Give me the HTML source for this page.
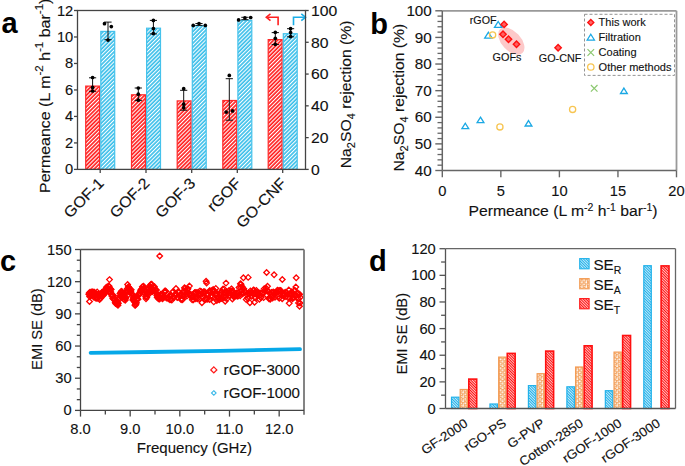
<!DOCTYPE html>
<html><head><meta charset="utf-8"><style>
html,body{margin:0;padding:0;background:#fff;width:685px;height:466px;overflow:hidden}
svg{display:block}
text{font-family:"Liberation Sans", sans-serif}
</style></head><body>
<svg width="685" height="466" viewBox="0 0 685 466">
<rect width="685" height="466" fill="#fff"/>

<defs>
 <pattern id="hr" patternUnits="userSpaceOnUse" width="2.75" height="2.75" patternTransform="rotate(45)">
  <rect width="2.75" height="2.75" fill="#ff2222"/><rect x="0" width="1.05" height="2.75" fill="#fff"/>
 </pattern>
 <pattern id="hb" patternUnits="userSpaceOnUse" width="2.75" height="2.75" patternTransform="rotate(45)">
  <rect width="2.75" height="2.75" fill="#3fc0ea"/><rect x="0" width="1.05" height="2.75" fill="#fff"/>
 </pattern>
 <pattern id="dr" patternUnits="userSpaceOnUse" width="1.9" height="1.9" patternTransform="rotate(-45)">
  <rect width="1.9" height="1.9" fill="#ff1010"/><rect x="0" width="0.7" height="1.9" fill="#fff"/>
 </pattern>
 <pattern id="db" patternUnits="userSpaceOnUse" width="1.9" height="1.9" patternTransform="rotate(-45)">
  <rect width="1.9" height="1.9" fill="#1fb0ea"/><rect x="0" width="0.7" height="1.9" fill="#fff"/>
 </pattern>
 <pattern id="do" patternUnits="userSpaceOnUse" width="4.4" height="4.4">
  <rect width="4.4" height="4.4" fill="#f29a50"/><circle cx="1.1" cy="1.0" r="0.95" fill="#fff"/><circle cx="3.3" cy="2.9" r="1.0" fill="#fff"/><circle cx="1.2" cy="3.6" r="0.7" fill="#fff"/><circle cx="3.6" cy="0.5" r="0.6" fill="#fff"/>
 </pattern>
</defs>

<text transform="translate(1.40,33.00)" font-size="29" text-anchor="start" fill="#000" font-weight="bold">a</text><rect x="85.70" y="86.10" width="13.90" height="83.30" fill="url(#hr)" stroke="#ff2a2a" stroke-width="1.2"/><rect x="100.80" y="31.40" width="13.90" height="138.00" fill="url(#hb)" stroke="#45c2ec" stroke-width="1.2"/><rect x="131.50" y="94.80" width="13.90" height="74.60" fill="url(#hr)" stroke="#ff2a2a" stroke-width="1.2"/><rect x="146.60" y="28.20" width="13.90" height="141.20" fill="url(#hb)" stroke="#45c2ec" stroke-width="1.2"/><rect x="177.20" y="100.90" width="13.90" height="68.50" fill="url(#hr)" stroke="#ff2a2a" stroke-width="1.2"/><rect x="192.30" y="25.70" width="13.90" height="143.70" fill="url(#hb)" stroke="#45c2ec" stroke-width="1.2"/><rect x="222.80" y="100.50" width="13.90" height="68.90" fill="url(#hr)" stroke="#ff2a2a" stroke-width="1.2"/><rect x="237.90" y="20.30" width="13.90" height="149.10" fill="url(#hb)" stroke="#45c2ec" stroke-width="1.2"/><rect x="268.20" y="39.60" width="13.90" height="129.80" fill="url(#hr)" stroke="#ff2a2a" stroke-width="1.2"/><rect x="283.30" y="33.70" width="13.90" height="135.70" fill="url(#hb)" stroke="#45c2ec" stroke-width="1.2"/><line x1="92.60" y1="77.80" x2="92.60" y2="91.30" stroke="#111" stroke-width="1.0"/><line x1="89.00" y1="77.80" x2="96.20" y2="77.80" stroke="#111" stroke-width="1.0"/><line x1="89.00" y1="91.30" x2="96.20" y2="91.30" stroke="#111" stroke-width="1.0"/><circle cx="92.60" cy="77.50" r="1.85" fill="#000"/><circle cx="92.60" cy="87.40" r="1.85" fill="#000"/><circle cx="92.60" cy="91.00" r="1.85" fill="#000"/><line x1="108.00" y1="22.10" x2="108.00" y2="39.70" stroke="#111" stroke-width="1.0"/><line x1="104.40" y1="22.10" x2="111.60" y2="22.10" stroke="#111" stroke-width="1.0"/><line x1="104.40" y1="39.70" x2="111.60" y2="39.70" stroke="#111" stroke-width="1.0"/><circle cx="104.50" cy="23.70" r="1.85" fill="#000"/><circle cx="111.30" cy="26.60" r="1.85" fill="#000"/><circle cx="108.00" cy="40.10" r="1.85" fill="#000"/><line x1="138.30" y1="88.00" x2="138.30" y2="100.40" stroke="#111" stroke-width="1.0"/><line x1="134.70" y1="88.00" x2="141.90" y2="88.00" stroke="#111" stroke-width="1.0"/><line x1="134.70" y1="100.40" x2="141.90" y2="100.40" stroke="#111" stroke-width="1.0"/><circle cx="138.30" cy="88.00" r="1.85" fill="#000"/><circle cx="138.30" cy="94.20" r="1.85" fill="#000"/><circle cx="138.30" cy="100.20" r="1.85" fill="#000"/><line x1="153.40" y1="20.40" x2="153.40" y2="33.90" stroke="#111" stroke-width="1.0"/><line x1="149.80" y1="20.40" x2="157.00" y2="20.40" stroke="#111" stroke-width="1.0"/><line x1="149.80" y1="33.90" x2="157.00" y2="33.90" stroke="#111" stroke-width="1.0"/><circle cx="153.40" cy="20.40" r="1.85" fill="#000"/><circle cx="153.40" cy="28.50" r="1.85" fill="#000"/><circle cx="153.40" cy="33.60" r="1.85" fill="#000"/><line x1="183.70" y1="90.30" x2="183.70" y2="110.20" stroke="#111" stroke-width="1.0"/><line x1="180.10" y1="90.30" x2="187.30" y2="90.30" stroke="#111" stroke-width="1.0"/><line x1="180.10" y1="110.20" x2="187.30" y2="110.20" stroke="#111" stroke-width="1.0"/><circle cx="183.70" cy="88.70" r="1.85" fill="#000"/><circle cx="183.70" cy="104.20" r="1.85" fill="#000"/><circle cx="183.70" cy="107.70" r="1.85" fill="#000"/><line x1="199.00" y1="23.50" x2="199.00" y2="25.40" stroke="#111" stroke-width="1.0"/><line x1="195.40" y1="23.50" x2="202.60" y2="23.50" stroke="#111" stroke-width="1.0"/><line x1="195.40" y1="25.40" x2="202.60" y2="25.40" stroke="#111" stroke-width="1.0"/><circle cx="193.20" cy="25.40" r="1.85" fill="#000"/><circle cx="199.00" cy="23.50" r="1.85" fill="#000"/><circle cx="205.30" cy="25.40" r="1.85" fill="#000"/><line x1="229.30" y1="78.70" x2="229.30" y2="120.20" stroke="#111" stroke-width="1.0"/><line x1="225.70" y1="78.70" x2="232.90" y2="78.70" stroke="#111" stroke-width="1.0"/><line x1="225.70" y1="120.20" x2="232.90" y2="120.20" stroke="#111" stroke-width="1.0"/><circle cx="229.30" cy="75.40" r="1.85" fill="#000"/><circle cx="226.20" cy="112.10" r="1.85" fill="#000"/><circle cx="232.60" cy="110.90" r="1.85" fill="#000"/><line x1="244.90" y1="17.30" x2="244.90" y2="19.70" stroke="#111" stroke-width="1.0"/><line x1="241.30" y1="17.30" x2="248.50" y2="17.30" stroke="#111" stroke-width="1.0"/><line x1="241.30" y1="19.70" x2="248.50" y2="19.70" stroke="#111" stroke-width="1.0"/><circle cx="238.60" cy="19.90" r="1.85" fill="#000"/><circle cx="244.90" cy="17.90" r="1.85" fill="#000"/><circle cx="250.70" cy="17.50" r="1.85" fill="#000"/><line x1="275.30" y1="32.60" x2="275.30" y2="44.50" stroke="#111" stroke-width="1.0"/><line x1="271.70" y1="32.60" x2="278.90" y2="32.60" stroke="#111" stroke-width="1.0"/><line x1="271.70" y1="44.50" x2="278.90" y2="44.50" stroke="#111" stroke-width="1.0"/><circle cx="275.30" cy="32.30" r="1.85" fill="#000"/><circle cx="275.30" cy="38.30" r="1.85" fill="#000"/><circle cx="275.30" cy="44.30" r="1.85" fill="#000"/><line x1="290.60" y1="28.70" x2="290.60" y2="36.80" stroke="#111" stroke-width="1.0"/><line x1="287.00" y1="28.70" x2="294.20" y2="28.70" stroke="#111" stroke-width="1.0"/><line x1="287.00" y1="36.80" x2="294.20" y2="36.80" stroke="#111" stroke-width="1.0"/><circle cx="290.60" cy="28.70" r="1.85" fill="#000"/><circle cx="290.60" cy="32.60" r="1.85" fill="#000"/><circle cx="290.60" cy="36.60" r="1.85" fill="#000"/><path d="M278.1,25.3 V17.2 H267.5" fill="none" stroke="#ff2020" stroke-width="1.6"/><path d="M270.5,13.8 L266.3,17.2 L270.5,20.6" fill="none" stroke="#ff2020" stroke-width="1.6"/><path d="M293.5,25.3 V17.2 H304.3" fill="none" stroke="#1aaee8" stroke-width="1.6"/><path d="M301.3,13.8 L305.5,17.2 L301.3,20.6" fill="none" stroke="#1aaee8" stroke-width="1.6"/><rect x="77.5" y="10.5" width="228.0" height="158.9" fill="none" stroke="#444" stroke-width="1.3"/><line x1="74.00" y1="169.40" x2="77.50" y2="169.40" stroke="#444" stroke-width="1.3"/><text transform="translate(73.30,174.40) scale(1.05,1)" font-size="14" text-anchor="end" fill="#111" stroke="#111" stroke-width="0.12">0</text><line x1="74.00" y1="142.92" x2="77.50" y2="142.92" stroke="#444" stroke-width="1.3"/><text transform="translate(73.30,147.92) scale(1.05,1)" font-size="14" text-anchor="end" fill="#111" stroke="#111" stroke-width="0.12">2</text><line x1="74.00" y1="116.43" x2="77.50" y2="116.43" stroke="#444" stroke-width="1.3"/><text transform="translate(73.30,121.43) scale(1.05,1)" font-size="14" text-anchor="end" fill="#111" stroke="#111" stroke-width="0.12">4</text><line x1="74.00" y1="89.95" x2="77.50" y2="89.95" stroke="#444" stroke-width="1.3"/><text transform="translate(73.30,94.95) scale(1.05,1)" font-size="14" text-anchor="end" fill="#111" stroke="#111" stroke-width="0.12">6</text><line x1="74.00" y1="63.47" x2="77.50" y2="63.47" stroke="#444" stroke-width="1.3"/><text transform="translate(73.30,68.47) scale(1.05,1)" font-size="14" text-anchor="end" fill="#111" stroke="#111" stroke-width="0.12">8</text><line x1="74.00" y1="36.98" x2="77.50" y2="36.98" stroke="#444" stroke-width="1.3"/><text transform="translate(73.30,41.98) scale(1.05,1)" font-size="14" text-anchor="end" fill="#111" stroke="#111" stroke-width="0.12">10</text><line x1="74.00" y1="10.50" x2="77.50" y2="10.50" stroke="#444" stroke-width="1.3"/><text transform="translate(73.30,15.50) scale(1.05,1)" font-size="14" text-anchor="end" fill="#111" stroke="#111" stroke-width="0.12">12</text><line x1="305.50" y1="169.40" x2="308.70" y2="169.40" stroke="#444" stroke-width="1.3"/><text transform="translate(311.00,174.80) scale(1.05,1)" font-size="15" text-anchor="start" fill="#111" stroke="#111" stroke-width="0.12">0</text><line x1="305.50" y1="137.62" x2="308.70" y2="137.62" stroke="#444" stroke-width="1.3"/><text transform="translate(311.00,143.02) scale(1.05,1)" font-size="15" text-anchor="start" fill="#111" stroke="#111" stroke-width="0.12">20</text><line x1="305.50" y1="105.84" x2="308.70" y2="105.84" stroke="#444" stroke-width="1.3"/><text transform="translate(311.00,111.24) scale(1.05,1)" font-size="15" text-anchor="start" fill="#111" stroke="#111" stroke-width="0.12">40</text><line x1="305.50" y1="74.06" x2="308.70" y2="74.06" stroke="#444" stroke-width="1.3"/><text transform="translate(311.00,79.46) scale(1.05,1)" font-size="15" text-anchor="start" fill="#111" stroke="#111" stroke-width="0.12">60</text><line x1="305.50" y1="42.28" x2="308.70" y2="42.28" stroke="#444" stroke-width="1.3"/><text transform="translate(311.00,47.68) scale(1.05,1)" font-size="15" text-anchor="start" fill="#111" stroke="#111" stroke-width="0.12">80</text><line x1="305.50" y1="10.50" x2="308.70" y2="10.50" stroke="#444" stroke-width="1.3"/><text transform="translate(311.00,15.90) scale(1.05,1)" font-size="15" text-anchor="start" fill="#111" stroke="#111" stroke-width="0.12">100</text><line x1="100.20" y1="169.40" x2="100.20" y2="172.90" stroke="#444" stroke-width="1.3"/><text transform="translate(104.80,184.20) rotate(-45) scale(1.05,1)" font-size="15.3" text-anchor="end" fill="#111" stroke="#111" stroke-width="0.12">GOF-1</text><line x1="146.00" y1="169.40" x2="146.00" y2="172.90" stroke="#444" stroke-width="1.3"/><text transform="translate(150.60,184.20) rotate(-45) scale(1.05,1)" font-size="15.3" text-anchor="end" fill="#111" stroke="#111" stroke-width="0.12">GOF-2</text><line x1="191.70" y1="169.40" x2="191.70" y2="172.90" stroke="#444" stroke-width="1.3"/><text transform="translate(196.30,184.20) rotate(-45) scale(1.05,1)" font-size="15.3" text-anchor="end" fill="#111" stroke="#111" stroke-width="0.12">GOF-3</text><line x1="237.30" y1="169.40" x2="237.30" y2="172.90" stroke="#444" stroke-width="1.3"/><text transform="translate(241.90,184.20) rotate(-45) scale(1.05,1)" font-size="15.3" text-anchor="end" fill="#111" stroke="#111" stroke-width="0.12">rGOF</text><line x1="282.70" y1="169.40" x2="282.70" y2="172.90" stroke="#444" stroke-width="1.3"/><text transform="translate(287.30,184.20) rotate(-45) scale(1.05,1)" font-size="15.3" text-anchor="end" fill="#111" stroke="#111" stroke-width="0.12">GO-CNF</text><text transform="translate(49.60,192.90) rotate(-90) scale(1.05,1)" font-size="15.2" text-anchor="start" fill="#111" stroke="#111" stroke-width="0.12">Permeance (L m<tspan dy="-6.8" font-size="11">-2</tspan><tspan dy="6.8"> h<tspan dy="-6.8" font-size="11">-1</tspan><tspan dy="6.8"> bar<tspan dy="-6.8" font-size="11">-1</tspan><tspan dy="6.8">)</tspan></tspan></tspan></text><text transform="translate(351.30,168.30) rotate(-90) scale(1.05,1)" font-size="15" text-anchor="start" fill="#111" stroke="#111" stroke-width="0.12">Na<tspan dy="4" font-size="10.5">2</tspan><tspan dy="-4">SO<tspan dy="4" font-size="10.5">4</tspan><tspan dy="-4"> rejection (%)</tspan></tspan></text><text transform="translate(370.30,33.60)" font-size="29" text-anchor="start" fill="#000" font-weight="bold">b</text><ellipse cx="511.3" cy="41.0" rx="16.3" ry="9.6" transform="rotate(47 511.3 41.0)" fill="#fdc9c9"/><line x1="442.30" y1="10.80" x2="676.50" y2="10.80" stroke="#999" stroke-width="1.8"/><line x1="676.50" y1="10.80" x2="676.50" y2="170.50" stroke="#999" stroke-width="1.8"/><line x1="442.30" y1="10.80" x2="442.30" y2="170.50" stroke="#666" stroke-width="1.5"/><line x1="442.30" y1="170.50" x2="676.50" y2="170.50" stroke="#666" stroke-width="1.5"/><line x1="435.30" y1="170.50" x2="442.30" y2="170.50" stroke="#666" stroke-width="1.4"/><text transform="translate(431.80,175.60) scale(1.05,1)" font-size="14.5" text-anchor="end" fill="#111" stroke="#111" stroke-width="0.12">40</text><line x1="437.50" y1="165.18" x2="442.30" y2="165.18" stroke="#666" stroke-width="1.3"/><line x1="437.50" y1="159.85" x2="442.30" y2="159.85" stroke="#666" stroke-width="1.3"/><line x1="437.50" y1="154.53" x2="442.30" y2="154.53" stroke="#666" stroke-width="1.3"/><line x1="437.50" y1="149.21" x2="442.30" y2="149.21" stroke="#666" stroke-width="1.3"/><line x1="435.30" y1="143.88" x2="442.30" y2="143.88" stroke="#666" stroke-width="1.4"/><text transform="translate(431.80,148.98) scale(1.05,1)" font-size="14.5" text-anchor="end" fill="#111" stroke="#111" stroke-width="0.12">50</text><line x1="437.50" y1="138.56" x2="442.30" y2="138.56" stroke="#666" stroke-width="1.3"/><line x1="437.50" y1="133.24" x2="442.30" y2="133.24" stroke="#666" stroke-width="1.3"/><line x1="437.50" y1="127.91" x2="442.30" y2="127.91" stroke="#666" stroke-width="1.3"/><line x1="437.50" y1="122.59" x2="442.30" y2="122.59" stroke="#666" stroke-width="1.3"/><line x1="435.30" y1="117.27" x2="442.30" y2="117.27" stroke="#666" stroke-width="1.4"/><text transform="translate(431.80,122.37) scale(1.05,1)" font-size="14.5" text-anchor="end" fill="#111" stroke="#111" stroke-width="0.12">60</text><line x1="437.50" y1="111.94" x2="442.30" y2="111.94" stroke="#666" stroke-width="1.3"/><line x1="437.50" y1="106.62" x2="442.30" y2="106.62" stroke="#666" stroke-width="1.3"/><line x1="437.50" y1="101.30" x2="442.30" y2="101.30" stroke="#666" stroke-width="1.3"/><line x1="437.50" y1="95.97" x2="442.30" y2="95.97" stroke="#666" stroke-width="1.3"/><line x1="435.30" y1="90.65" x2="442.30" y2="90.65" stroke="#666" stroke-width="1.4"/><text transform="translate(431.80,95.75) scale(1.05,1)" font-size="14.5" text-anchor="end" fill="#111" stroke="#111" stroke-width="0.12">70</text><line x1="437.50" y1="85.33" x2="442.30" y2="85.33" stroke="#666" stroke-width="1.3"/><line x1="437.50" y1="80.00" x2="442.30" y2="80.00" stroke="#666" stroke-width="1.3"/><line x1="437.50" y1="74.68" x2="442.30" y2="74.68" stroke="#666" stroke-width="1.3"/><line x1="437.50" y1="69.36" x2="442.30" y2="69.36" stroke="#666" stroke-width="1.3"/><line x1="435.30" y1="64.03" x2="442.30" y2="64.03" stroke="#666" stroke-width="1.4"/><text transform="translate(431.80,69.13) scale(1.05,1)" font-size="14.5" text-anchor="end" fill="#111" stroke="#111" stroke-width="0.12">80</text><line x1="437.50" y1="58.71" x2="442.30" y2="58.71" stroke="#666" stroke-width="1.3"/><line x1="437.50" y1="53.39" x2="442.30" y2="53.39" stroke="#666" stroke-width="1.3"/><line x1="437.50" y1="48.06" x2="442.30" y2="48.06" stroke="#666" stroke-width="1.3"/><line x1="437.50" y1="42.74" x2="442.30" y2="42.74" stroke="#666" stroke-width="1.3"/><line x1="435.30" y1="37.42" x2="442.30" y2="37.42" stroke="#666" stroke-width="1.4"/><text transform="translate(431.80,42.52) scale(1.05,1)" font-size="14.5" text-anchor="end" fill="#111" stroke="#111" stroke-width="0.12">90</text><line x1="437.50" y1="32.09" x2="442.30" y2="32.09" stroke="#666" stroke-width="1.3"/><line x1="437.50" y1="26.77" x2="442.30" y2="26.77" stroke="#666" stroke-width="1.3"/><line x1="437.50" y1="21.45" x2="442.30" y2="21.45" stroke="#666" stroke-width="1.3"/><line x1="437.50" y1="16.12" x2="442.30" y2="16.12" stroke="#666" stroke-width="1.3"/><line x1="435.30" y1="10.80" x2="442.30" y2="10.80" stroke="#666" stroke-width="1.4"/><text transform="translate(431.80,15.90) scale(1.05,1)" font-size="14.5" text-anchor="end" fill="#111" stroke="#111" stroke-width="0.12">100</text><line x1="442.30" y1="170.50" x2="442.30" y2="177.30" stroke="#666" stroke-width="1.4"/><text transform="translate(442.30,196.00) scale(1.05,1)" font-size="14" text-anchor="middle" fill="#111" stroke="#111" stroke-width="0.12">0</text><line x1="500.85" y1="170.50" x2="500.85" y2="177.30" stroke="#666" stroke-width="1.4"/><text transform="translate(500.85,196.00) scale(1.05,1)" font-size="14" text-anchor="middle" fill="#111" stroke="#111" stroke-width="0.12">5</text><line x1="559.40" y1="170.50" x2="559.40" y2="177.30" stroke="#666" stroke-width="1.4"/><text transform="translate(559.40,196.00) scale(1.05,1)" font-size="14" text-anchor="middle" fill="#111" stroke="#111" stroke-width="0.12">10</text><line x1="617.95" y1="170.50" x2="617.95" y2="177.30" stroke="#666" stroke-width="1.4"/><text transform="translate(617.95,196.00) scale(1.05,1)" font-size="14" text-anchor="middle" fill="#111" stroke="#111" stroke-width="0.12">15</text><line x1="676.50" y1="170.50" x2="676.50" y2="177.30" stroke="#666" stroke-width="1.4"/><text transform="translate(676.50,196.00) scale(1.05,1)" font-size="14" text-anchor="middle" fill="#111" stroke="#111" stroke-width="0.12">20</text><text transform="translate(563.00,215.60) scale(1.05,1)" font-size="15" text-anchor="middle" fill="#111" stroke="#111" stroke-width="0.12">Permeance (L m<tspan dy="-5" font-size="10">-2</tspan><tspan dy="5"> h<tspan dy="-5" font-size="10">-1</tspan><tspan dy="5"> bar<tspan dy="-5" font-size="10">-1</tspan><tspan dy="5">)</tspan></tspan></tspan></text><text transform="translate(404.20,171.50) rotate(-90) scale(1.05,1)" font-size="15" text-anchor="start" fill="#111" stroke="#111" stroke-width="0.12">Na<tspan dy="4" font-size="10.5">2</tspan><tspan dy="-4">SO<tspan dy="4" font-size="10.5">4</tspan><tspan dy="-4"> rejection (%)</tspan></tspan></text><path d="M465.30,123.24 L468.70,128.69 L461.90,128.69 Z" fill="none" stroke="#1aa8e4" stroke-width="1.3" stroke-linejoin="miter"/><path d="M480.50,117.14 L483.90,122.59 L477.10,122.59 Z" fill="none" stroke="#1aa8e4" stroke-width="1.3" stroke-linejoin="miter"/><path d="M528.50,120.54 L531.90,125.99 L525.10,125.99 Z" fill="none" stroke="#1aa8e4" stroke-width="1.3" stroke-linejoin="miter"/><path d="M623.90,88.04 L627.30,93.49 L620.50,93.49 Z" fill="none" stroke="#1aa8e4" stroke-width="1.3" stroke-linejoin="miter"/><path d="M498.20,21.47 L501.90,27.40 L494.50,27.40 Z" fill="none" stroke="#1aa8e4" stroke-width="1.3" stroke-linejoin="miter"/><path d="M488.40,32.27 L492.10,38.20 L484.70,38.20 Z" fill="none" stroke="#1aa8e4" stroke-width="1.3" stroke-linejoin="miter"/><circle cx="499.90" cy="126.90" r="3.1" fill="none" stroke="#f7c552" stroke-width="1.3"/><circle cx="572.60" cy="109.40" r="3.1" fill="none" stroke="#f7c552" stroke-width="1.3"/><circle cx="492.60" cy="34.90" r="3.1" fill="none" stroke="#f7c552" stroke-width="1.3"/><path d="M590.90,85.00 L597.50,91.60 M597.50,85.00 L590.90,91.60" stroke="#8cc870" stroke-width="1.2"/><path d="M504.10,21.20 L507.30,24.40 L504.10,27.60 L500.90,24.40 Z" fill="#ff6060" stroke="#ff1010" stroke-width="1.4"/><path d="M503.00,31.10 L506.20,34.30 L503.00,37.50 L499.80,34.30 Z" fill="#ff6060" stroke="#ff1010" stroke-width="1.4"/><path d="M508.50,36.00 L511.70,39.20 L508.50,42.40 L505.30,39.20 Z" fill="#ff6060" stroke="#ff1010" stroke-width="1.4"/><path d="M516.50,41.10 L519.70,44.30 L516.50,47.50 L513.30,44.30 Z" fill="#ff6060" stroke="#ff1010" stroke-width="1.4"/><path d="M558.10,44.50 L561.30,47.70 L558.10,50.90 L554.90,47.70 Z" fill="#ff6060" stroke="#ff1010" stroke-width="1.4"/><text transform="translate(469.80,24.00) scale(1.05,1)" font-size="10.2" text-anchor="start" fill="#111" stroke="#111" stroke-width="0.12">rGOF</text><text transform="translate(492.60,60.80) scale(1.05,1)" font-size="10.3" text-anchor="start" fill="#111" stroke="#111" stroke-width="0.12">GOFs</text><text transform="translate(538.80,61.60) scale(1.05,1)" font-size="10.3" text-anchor="start" fill="#111" stroke="#111" stroke-width="0.12">GO-CNF</text><rect x="584.5" y="14.3" width="90" height="61.1" fill="none" stroke="#888" stroke-width="0.9" stroke-dasharray="3,2"/><path d="M590.80,19.40 L593.80,22.40 L590.80,25.40 L587.80,22.40 Z" fill="#ff6a6a" stroke="#ff1010" stroke-width="1.4"/><path d="M590.80,34.26 L594.40,40.03 L587.20,40.03 Z" fill="none" stroke="#1aa8e4" stroke-width="1.3" stroke-linejoin="miter"/><path d="M587.50,49.20 L594.10,55.80 M594.10,49.20 L587.50,55.80" stroke="#8cc870" stroke-width="1.2"/><circle cx="590.80" cy="67.00" r="3.2" fill="none" stroke="#f7c552" stroke-width="1.3"/><text transform="translate(598.60,26.20) scale(1.05,1)" font-size="10.5" text-anchor="start" fill="#111" stroke="#111" stroke-width="0.12">This work</text><text transform="translate(598.60,41.10) scale(1.05,1)" font-size="10.5" text-anchor="start" fill="#111" stroke="#111" stroke-width="0.12">Filtration</text><text transform="translate(598.60,56.00) scale(1.05,1)" font-size="10.5" text-anchor="start" fill="#111" stroke="#111" stroke-width="0.12">Coating</text><text transform="translate(598.60,70.90) scale(1.05,1)" font-size="10.5" text-anchor="start" fill="#111" stroke="#111" stroke-width="0.12">Other methods</text><text transform="translate(0.00,271.00)" font-size="29" text-anchor="start" fill="#000" font-weight="bold">c</text><path d="M90.6,352.8 L150,352.0 L220,350.9 L300,349.1" fill="none" stroke="#06a8e8" stroke-width="3.8" stroke-linecap="round"/><path d="M88.80,291.43 L91.60,294.23 L88.80,297.03 L86.00,294.23 Z" fill="none" stroke="#ff0000" stroke-width="1.3"/><path d="M89.20,290.15 L92.00,292.95 L89.20,295.75 L86.40,292.95 Z" fill="none" stroke="#ff0000" stroke-width="1.3"/><path d="M89.60,293.72 L92.40,296.52 L89.60,299.32 L86.80,296.52 Z" fill="none" stroke="#ff0000" stroke-width="1.3"/><path d="M90.00,289.52 L92.80,292.32 L90.00,295.12 L87.20,292.32 Z" fill="none" stroke="#ff0000" stroke-width="1.3"/><path d="M90.40,292.82 L93.20,295.62 L90.40,298.42 L87.60,295.62 Z" fill="none" stroke="#ff0000" stroke-width="1.3"/><path d="M90.80,291.56 L93.60,294.36 L90.80,297.16 L88.00,294.36 Z" fill="none" stroke="#ff0000" stroke-width="1.3"/><path d="M91.20,289.30 L94.00,292.10 L91.20,294.90 L88.40,292.10 Z" fill="none" stroke="#ff0000" stroke-width="1.3"/><path d="M91.60,292.51 L94.40,295.31 L91.60,298.11 L88.80,295.31 Z" fill="none" stroke="#ff0000" stroke-width="1.3"/><path d="M92.00,289.09 L94.80,291.89 L92.00,294.69 L89.20,291.89 Z" fill="none" stroke="#ff0000" stroke-width="1.3"/><path d="M92.40,291.90 L95.20,294.70 L92.40,297.50 L89.60,294.70 Z" fill="none" stroke="#ff0000" stroke-width="1.3"/><path d="M92.80,289.25 L95.60,292.05 L92.80,294.85 L90.00,292.05 Z" fill="none" stroke="#ff0000" stroke-width="1.3"/><path d="M93.20,289.36 L96.00,292.16 L93.20,294.96 L90.40,292.16 Z" fill="none" stroke="#ff0000" stroke-width="1.3"/><path d="M93.60,291.73 L96.40,294.53 L93.60,297.33 L90.80,294.53 Z" fill="none" stroke="#ff0000" stroke-width="1.3"/><path d="M94.00,294.59 L96.80,297.39 L94.00,300.19 L91.20,297.39 Z" fill="none" stroke="#ff0000" stroke-width="1.3"/><path d="M94.40,289.50 L97.20,292.30 L94.40,295.10 L91.60,292.30 Z" fill="none" stroke="#ff0000" stroke-width="1.3"/><path d="M94.80,290.18 L97.60,292.98 L94.80,295.78 L92.00,292.98 Z" fill="none" stroke="#ff0000" stroke-width="1.3"/><path d="M95.20,293.05 L98.00,295.85 L95.20,298.65 L92.40,295.85 Z" fill="none" stroke="#ff0000" stroke-width="1.3"/><path d="M95.60,295.32 L98.40,298.12 L95.60,300.92 L92.80,298.12 Z" fill="none" stroke="#ff0000" stroke-width="1.3"/><path d="M96.00,292.62 L98.80,295.42 L96.00,298.22 L93.20,295.42 Z" fill="none" stroke="#ff0000" stroke-width="1.3"/><path d="M96.40,291.28 L99.20,294.08 L96.40,296.88 L93.60,294.08 Z" fill="none" stroke="#ff0000" stroke-width="1.3"/><path d="M96.80,295.51 L99.60,298.31 L96.80,301.11 L94.00,298.31 Z" fill="none" stroke="#ff0000" stroke-width="1.3"/><path d="M97.20,289.15 L100.00,291.95 L97.20,294.75 L94.40,291.95 Z" fill="none" stroke="#ff0000" stroke-width="1.3"/><path d="M97.60,295.33 L100.40,298.13 L97.60,300.93 L94.80,298.13 Z" fill="none" stroke="#ff0000" stroke-width="1.3"/><path d="M98.00,291.56 L100.80,294.36 L98.00,297.16 L95.20,294.36 Z" fill="none" stroke="#ff0000" stroke-width="1.3"/><path d="M98.40,290.85 L101.20,293.65 L98.40,296.45 L95.60,293.65 Z" fill="none" stroke="#ff0000" stroke-width="1.3"/><path d="M98.80,290.99 L101.60,293.79 L98.80,296.59 L96.00,293.79 Z" fill="none" stroke="#ff0000" stroke-width="1.3"/><path d="M99.20,292.69 L102.00,295.49 L99.20,298.29 L96.40,295.49 Z" fill="none" stroke="#ff0000" stroke-width="1.3"/><path d="M99.60,296.68 L102.40,299.48 L99.60,302.28 L96.80,299.48 Z" fill="none" stroke="#ff0000" stroke-width="1.3"/><path d="M100.00,292.44 L102.80,295.24 L100.00,298.04 L97.20,295.24 Z" fill="none" stroke="#ff0000" stroke-width="1.3"/><path d="M100.40,295.26 L103.20,298.06 L100.40,300.86 L97.60,298.06 Z" fill="none" stroke="#ff0000" stroke-width="1.3"/><path d="M100.80,295.21 L103.60,298.01 L100.80,300.81 L98.00,298.01 Z" fill="none" stroke="#ff0000" stroke-width="1.3"/><path d="M101.20,292.83 L104.00,295.63 L101.20,298.43 L98.40,295.63 Z" fill="none" stroke="#ff0000" stroke-width="1.3"/><path d="M101.60,293.64 L104.40,296.44 L101.60,299.24 L98.80,296.44 Z" fill="none" stroke="#ff0000" stroke-width="1.3"/><path d="M102.00,289.69 L104.80,292.49 L102.00,295.29 L99.20,292.49 Z" fill="none" stroke="#ff0000" stroke-width="1.3"/><path d="M102.40,289.21 L105.20,292.01 L102.40,294.81 L99.60,292.01 Z" fill="none" stroke="#ff0000" stroke-width="1.3"/><path d="M102.80,289.80 L105.60,292.60 L102.80,295.40 L100.00,292.60 Z" fill="none" stroke="#ff0000" stroke-width="1.3"/><path d="M103.20,292.76 L106.00,295.56 L103.20,298.36 L100.40,295.56 Z" fill="none" stroke="#ff0000" stroke-width="1.3"/><path d="M103.60,290.48 L106.40,293.28 L103.60,296.08 L100.80,293.28 Z" fill="none" stroke="#ff0000" stroke-width="1.3"/><path d="M104.00,289.21 L106.80,292.01 L104.00,294.81 L101.20,292.01 Z" fill="none" stroke="#ff0000" stroke-width="1.3"/><path d="M104.40,290.63 L107.20,293.43 L104.40,296.23 L101.60,293.43 Z" fill="none" stroke="#ff0000" stroke-width="1.3"/><path d="M104.80,288.92 L107.60,291.72 L104.80,294.52 L102.00,291.72 Z" fill="none" stroke="#ff0000" stroke-width="1.3"/><path d="M105.20,287.06 L108.00,289.86 L105.20,292.66 L102.40,289.86 Z" fill="none" stroke="#ff0000" stroke-width="1.3"/><path d="M105.60,289.87 L108.40,292.67 L105.60,295.47 L102.80,292.67 Z" fill="none" stroke="#ff0000" stroke-width="1.3"/><path d="M106.00,288.43 L108.80,291.23 L106.00,294.03 L103.20,291.23 Z" fill="none" stroke="#ff0000" stroke-width="1.3"/><path d="M106.40,284.40 L109.20,287.20 L106.40,290.00 L103.60,287.20 Z" fill="none" stroke="#ff0000" stroke-width="1.3"/><path d="M106.80,286.02 L109.60,288.82 L106.80,291.62 L104.00,288.82 Z" fill="none" stroke="#ff0000" stroke-width="1.3"/><path d="M107.20,284.91 L110.00,287.71 L107.20,290.51 L104.40,287.71 Z" fill="none" stroke="#ff0000" stroke-width="1.3"/><path d="M107.60,286.68 L110.40,289.48 L107.60,292.28 L104.80,289.48 Z" fill="none" stroke="#ff0000" stroke-width="1.3"/><path d="M108.00,285.63 L110.80,288.43 L108.00,291.23 L105.20,288.43 Z" fill="none" stroke="#ff0000" stroke-width="1.3"/><path d="M108.40,283.20 L111.20,286.00 L108.40,288.80 L105.60,286.00 Z" fill="none" stroke="#ff0000" stroke-width="1.3"/><path d="M108.80,288.94 L111.60,291.74 L108.80,294.54 L106.00,291.74 Z" fill="none" stroke="#ff0000" stroke-width="1.3"/><path d="M109.20,283.49 L112.00,286.29 L109.20,289.09 L106.40,286.29 Z" fill="none" stroke="#ff0000" stroke-width="1.3"/><path d="M109.60,286.40 L112.40,289.20 L109.60,292.00 L106.80,289.20 Z" fill="none" stroke="#ff0000" stroke-width="1.3"/><path d="M110.00,289.60 L112.80,292.40 L110.00,295.20 L107.20,292.40 Z" fill="none" stroke="#ff0000" stroke-width="1.3"/><path d="M110.40,286.00 L113.20,288.80 L110.40,291.60 L107.60,288.80 Z" fill="none" stroke="#ff0000" stroke-width="1.3"/><path d="M110.80,289.18 L113.60,291.98 L110.80,294.78 L108.00,291.98 Z" fill="none" stroke="#ff0000" stroke-width="1.3"/><path d="M111.20,286.69 L114.00,289.49 L111.20,292.29 L108.40,289.49 Z" fill="none" stroke="#ff0000" stroke-width="1.3"/><path d="M111.60,291.97 L114.40,294.77 L111.60,297.57 L108.80,294.77 Z" fill="none" stroke="#ff0000" stroke-width="1.3"/><path d="M112.00,293.40 L114.80,296.20 L112.00,299.00 L109.20,296.20 Z" fill="none" stroke="#ff0000" stroke-width="1.3"/><path d="M112.40,292.77 L115.20,295.57 L112.40,298.37 L109.60,295.57 Z" fill="none" stroke="#ff0000" stroke-width="1.3"/><path d="M112.80,295.69 L115.60,298.49 L112.80,301.29 L110.00,298.49 Z" fill="none" stroke="#ff0000" stroke-width="1.3"/><path d="M113.20,292.39 L116.00,295.19 L113.20,297.99 L110.40,295.19 Z" fill="none" stroke="#ff0000" stroke-width="1.3"/><path d="M113.60,295.88 L116.40,298.68 L113.60,301.48 L110.80,298.68 Z" fill="none" stroke="#ff0000" stroke-width="1.3"/><path d="M114.00,295.89 L116.80,298.69 L114.00,301.49 L111.20,298.69 Z" fill="none" stroke="#ff0000" stroke-width="1.3"/><path d="M114.40,296.53 L117.20,299.33 L114.40,302.13 L111.60,299.33 Z" fill="none" stroke="#ff0000" stroke-width="1.3"/><path d="M114.80,296.38 L117.60,299.18 L114.80,301.98 L112.00,299.18 Z" fill="none" stroke="#ff0000" stroke-width="1.3"/><path d="M115.20,299.56 L118.00,302.36 L115.20,305.16 L112.40,302.36 Z" fill="none" stroke="#ff0000" stroke-width="1.3"/><path d="M115.60,300.73 L118.40,303.53 L115.60,306.33 L112.80,303.53 Z" fill="none" stroke="#ff0000" stroke-width="1.3"/><path d="M116.00,297.75 L118.80,300.55 L116.00,303.35 L113.20,300.55 Z" fill="none" stroke="#ff0000" stroke-width="1.3"/><path d="M116.40,299.54 L119.20,302.34 L116.40,305.14 L113.60,302.34 Z" fill="none" stroke="#ff0000" stroke-width="1.3"/><path d="M116.80,295.61 L119.60,298.41 L116.80,301.21 L114.00,298.41 Z" fill="none" stroke="#ff0000" stroke-width="1.3"/><path d="M117.20,300.63 L120.00,303.43 L117.20,306.23 L114.40,303.43 Z" fill="none" stroke="#ff0000" stroke-width="1.3"/><path d="M117.60,300.66 L120.40,303.46 L117.60,306.26 L114.80,303.46 Z" fill="none" stroke="#ff0000" stroke-width="1.3"/><path d="M118.00,302.54 L120.80,305.34 L118.00,308.14 L115.20,305.34 Z" fill="none" stroke="#ff0000" stroke-width="1.3"/><path d="M118.40,300.36 L121.20,303.16 L118.40,305.96 L115.60,303.16 Z" fill="none" stroke="#ff0000" stroke-width="1.3"/><path d="M118.80,295.54 L121.60,298.34 L118.80,301.14 L116.00,298.34 Z" fill="none" stroke="#ff0000" stroke-width="1.3"/><path d="M119.20,295.32 L122.00,298.12 L119.20,300.92 L116.40,298.12 Z" fill="none" stroke="#ff0000" stroke-width="1.3"/><path d="M119.60,296.41 L122.40,299.21 L119.60,302.01 L116.80,299.21 Z" fill="none" stroke="#ff0000" stroke-width="1.3"/><path d="M120.00,290.81 L122.80,293.61 L120.00,296.41 L117.20,293.61 Z" fill="none" stroke="#ff0000" stroke-width="1.3"/><path d="M120.40,293.02 L123.20,295.82 L120.40,298.62 L117.60,295.82 Z" fill="none" stroke="#ff0000" stroke-width="1.3"/><path d="M120.80,289.96 L123.60,292.76 L120.80,295.56 L118.00,292.76 Z" fill="none" stroke="#ff0000" stroke-width="1.3"/><path d="M121.20,288.64 L124.00,291.44 L121.20,294.24 L118.40,291.44 Z" fill="none" stroke="#ff0000" stroke-width="1.3"/><path d="M121.60,288.57 L124.40,291.37 L121.60,294.17 L118.80,291.37 Z" fill="none" stroke="#ff0000" stroke-width="1.3"/><path d="M122.00,294.01 L124.80,296.81 L122.00,299.61 L119.20,296.81 Z" fill="none" stroke="#ff0000" stroke-width="1.3"/><path d="M122.40,289.76 L125.20,292.56 L122.40,295.36 L119.60,292.56 Z" fill="none" stroke="#ff0000" stroke-width="1.3"/><path d="M122.80,290.95 L125.60,293.75 L122.80,296.55 L120.00,293.75 Z" fill="none" stroke="#ff0000" stroke-width="1.3"/><path d="M123.20,292.32 L126.00,295.12 L123.20,297.92 L120.40,295.12 Z" fill="none" stroke="#ff0000" stroke-width="1.3"/><path d="M123.60,296.12 L126.40,298.92 L123.60,301.72 L120.80,298.92 Z" fill="none" stroke="#ff0000" stroke-width="1.3"/><path d="M124.00,290.77 L126.80,293.57 L124.00,296.37 L121.20,293.57 Z" fill="none" stroke="#ff0000" stroke-width="1.3"/><path d="M124.40,293.77 L127.20,296.57 L124.40,299.37 L121.60,296.57 Z" fill="none" stroke="#ff0000" stroke-width="1.3"/><path d="M124.80,294.83 L127.60,297.63 L124.80,300.43 L122.00,297.63 Z" fill="none" stroke="#ff0000" stroke-width="1.3"/><path d="M125.20,297.57 L128.00,300.37 L125.20,303.17 L122.40,300.37 Z" fill="none" stroke="#ff0000" stroke-width="1.3"/><path d="M125.60,295.93 L128.40,298.73 L125.60,301.53 L122.80,298.73 Z" fill="none" stroke="#ff0000" stroke-width="1.3"/><path d="M126.00,294.57 L128.80,297.37 L126.00,300.17 L123.20,297.37 Z" fill="none" stroke="#ff0000" stroke-width="1.3"/><path d="M126.40,288.67 L129.20,291.47 L126.40,294.27 L123.60,291.47 Z" fill="none" stroke="#ff0000" stroke-width="1.3"/><path d="M126.80,287.96 L129.60,290.76 L126.80,293.56 L124.00,290.76 Z" fill="none" stroke="#ff0000" stroke-width="1.3"/><path d="M127.20,285.87 L130.00,288.67 L127.20,291.47 L124.40,288.67 Z" fill="none" stroke="#ff0000" stroke-width="1.3"/><path d="M127.60,287.97 L130.40,290.77 L127.60,293.57 L124.80,290.77 Z" fill="none" stroke="#ff0000" stroke-width="1.3"/><path d="M128.00,289.10 L130.80,291.90 L128.00,294.70 L125.20,291.90 Z" fill="none" stroke="#ff0000" stroke-width="1.3"/><path d="M128.40,283.90 L131.20,286.70 L128.40,289.50 L125.60,286.70 Z" fill="none" stroke="#ff0000" stroke-width="1.3"/><path d="M128.80,284.68 L131.60,287.48 L128.80,290.28 L126.00,287.48 Z" fill="none" stroke="#ff0000" stroke-width="1.3"/><path d="M129.20,285.69 L132.00,288.49 L129.20,291.29 L126.40,288.49 Z" fill="none" stroke="#ff0000" stroke-width="1.3"/><path d="M129.60,286.30 L132.40,289.10 L129.60,291.90 L126.80,289.10 Z" fill="none" stroke="#ff0000" stroke-width="1.3"/><path d="M130.00,288.72 L132.80,291.52 L130.00,294.32 L127.20,291.52 Z" fill="none" stroke="#ff0000" stroke-width="1.3"/><path d="M130.40,290.08 L133.20,292.88 L130.40,295.68 L127.60,292.88 Z" fill="none" stroke="#ff0000" stroke-width="1.3"/><path d="M130.80,288.33 L133.60,291.13 L130.80,293.93 L128.00,291.13 Z" fill="none" stroke="#ff0000" stroke-width="1.3"/><path d="M131.20,287.07 L134.00,289.87 L131.20,292.67 L128.40,289.87 Z" fill="none" stroke="#ff0000" stroke-width="1.3"/><path d="M131.60,290.67 L134.40,293.47 L131.60,296.27 L128.80,293.47 Z" fill="none" stroke="#ff0000" stroke-width="1.3"/><path d="M132.00,291.17 L134.80,293.97 L132.00,296.77 L129.20,293.97 Z" fill="none" stroke="#ff0000" stroke-width="1.3"/><path d="M132.40,293.54 L135.20,296.34 L132.40,299.14 L129.60,296.34 Z" fill="none" stroke="#ff0000" stroke-width="1.3"/><path d="M132.80,297.27 L135.60,300.07 L132.80,302.87 L130.00,300.07 Z" fill="none" stroke="#ff0000" stroke-width="1.3"/><path d="M133.20,296.33 L136.00,299.13 L133.20,301.93 L130.40,299.13 Z" fill="none" stroke="#ff0000" stroke-width="1.3"/><path d="M133.60,296.02 L136.40,298.82 L133.60,301.62 L130.80,298.82 Z" fill="none" stroke="#ff0000" stroke-width="1.3"/><path d="M134.00,297.70 L136.80,300.50 L134.00,303.30 L131.20,300.50 Z" fill="none" stroke="#ff0000" stroke-width="1.3"/><path d="M134.40,299.07 L137.20,301.87 L134.40,304.67 L131.60,301.87 Z" fill="none" stroke="#ff0000" stroke-width="1.3"/><path d="M134.80,295.54 L137.60,298.34 L134.80,301.14 L132.00,298.34 Z" fill="none" stroke="#ff0000" stroke-width="1.3"/><path d="M135.20,302.58 L138.00,305.38 L135.20,308.18 L132.40,305.38 Z" fill="none" stroke="#ff0000" stroke-width="1.3"/><path d="M135.60,301.11 L138.40,303.91 L135.60,306.71 L132.80,303.91 Z" fill="none" stroke="#ff0000" stroke-width="1.3"/><path d="M136.00,301.19 L138.80,303.99 L136.00,306.79 L133.20,303.99 Z" fill="none" stroke="#ff0000" stroke-width="1.3"/><path d="M136.40,300.03 L139.20,302.83 L136.40,305.63 L133.60,302.83 Z" fill="none" stroke="#ff0000" stroke-width="1.3"/><path d="M136.80,296.51 L139.60,299.31 L136.80,302.11 L134.00,299.31 Z" fill="none" stroke="#ff0000" stroke-width="1.3"/><path d="M137.20,295.95 L140.00,298.75 L137.20,301.55 L134.40,298.75 Z" fill="none" stroke="#ff0000" stroke-width="1.3"/><path d="M137.60,293.22 L140.40,296.02 L137.60,298.82 L134.80,296.02 Z" fill="none" stroke="#ff0000" stroke-width="1.3"/><path d="M138.00,296.44 L140.80,299.24 L138.00,302.04 L135.20,299.24 Z" fill="none" stroke="#ff0000" stroke-width="1.3"/><path d="M138.40,291.71 L141.20,294.51 L138.40,297.31 L135.60,294.51 Z" fill="none" stroke="#ff0000" stroke-width="1.3"/><path d="M138.80,291.15 L141.60,293.95 L138.80,296.75 L136.00,293.95 Z" fill="none" stroke="#ff0000" stroke-width="1.3"/><path d="M139.20,291.56 L142.00,294.36 L139.20,297.16 L136.40,294.36 Z" fill="none" stroke="#ff0000" stroke-width="1.3"/><path d="M139.60,290.62 L142.40,293.42 L139.60,296.22 L136.80,293.42 Z" fill="none" stroke="#ff0000" stroke-width="1.3"/><path d="M140.00,291.24 L142.80,294.04 L140.00,296.84 L137.20,294.04 Z" fill="none" stroke="#ff0000" stroke-width="1.3"/><path d="M140.40,288.35 L143.20,291.15 L140.40,293.95 L137.60,291.15 Z" fill="none" stroke="#ff0000" stroke-width="1.3"/><path d="M140.80,287.15 L143.60,289.95 L140.80,292.75 L138.00,289.95 Z" fill="none" stroke="#ff0000" stroke-width="1.3"/><path d="M141.20,287.41 L144.00,290.21 L141.20,293.01 L138.40,290.21 Z" fill="none" stroke="#ff0000" stroke-width="1.3"/><path d="M141.60,286.23 L144.40,289.03 L141.60,291.83 L138.80,289.03 Z" fill="none" stroke="#ff0000" stroke-width="1.3"/><path d="M142.00,287.30 L144.80,290.10 L142.00,292.90 L139.20,290.10 Z" fill="none" stroke="#ff0000" stroke-width="1.3"/><path d="M142.40,284.04 L145.20,286.84 L142.40,289.64 L139.60,286.84 Z" fill="none" stroke="#ff0000" stroke-width="1.3"/><path d="M142.80,289.33 L145.60,292.13 L142.80,294.93 L140.00,292.13 Z" fill="none" stroke="#ff0000" stroke-width="1.3"/><path d="M143.20,286.63 L146.00,289.43 L143.20,292.23 L140.40,289.43 Z" fill="none" stroke="#ff0000" stroke-width="1.3"/><path d="M143.60,283.41 L146.40,286.21 L143.60,289.01 L140.80,286.21 Z" fill="none" stroke="#ff0000" stroke-width="1.3"/><path d="M144.00,285.24 L146.80,288.04 L144.00,290.84 L141.20,288.04 Z" fill="none" stroke="#ff0000" stroke-width="1.3"/><path d="M144.40,287.02 L147.20,289.82 L144.40,292.62 L141.60,289.82 Z" fill="none" stroke="#ff0000" stroke-width="1.3"/><path d="M144.80,288.22 L147.60,291.02 L144.80,293.82 L142.00,291.02 Z" fill="none" stroke="#ff0000" stroke-width="1.3"/><path d="M145.20,287.57 L148.00,290.37 L145.20,293.17 L142.40,290.37 Z" fill="none" stroke="#ff0000" stroke-width="1.3"/><path d="M145.60,293.88 L148.40,296.68 L145.60,299.48 L142.80,296.68 Z" fill="none" stroke="#ff0000" stroke-width="1.3"/><path d="M146.00,296.01 L148.80,298.81 L146.00,301.61 L143.20,298.81 Z" fill="none" stroke="#ff0000" stroke-width="1.3"/><path d="M146.40,293.30 L149.20,296.10 L146.40,298.90 L143.60,296.10 Z" fill="none" stroke="#ff0000" stroke-width="1.3"/><path d="M146.80,294.51 L149.60,297.31 L146.80,300.11 L144.00,297.31 Z" fill="none" stroke="#ff0000" stroke-width="1.3"/><path d="M147.20,290.99 L150.00,293.79 L147.20,296.59 L144.40,293.79 Z" fill="none" stroke="#ff0000" stroke-width="1.3"/><path d="M147.60,289.88 L150.40,292.68 L147.60,295.48 L144.80,292.68 Z" fill="none" stroke="#ff0000" stroke-width="1.3"/><path d="M148.00,290.37 L150.80,293.17 L148.00,295.97 L145.20,293.17 Z" fill="none" stroke="#ff0000" stroke-width="1.3"/><path d="M148.40,288.58 L151.20,291.38 L148.40,294.18 L145.60,291.38 Z" fill="none" stroke="#ff0000" stroke-width="1.3"/><path d="M148.80,291.40 L151.60,294.20 L148.80,297.00 L146.00,294.20 Z" fill="none" stroke="#ff0000" stroke-width="1.3"/><path d="M149.20,285.37 L152.00,288.17 L149.20,290.97 L146.40,288.17 Z" fill="none" stroke="#ff0000" stroke-width="1.3"/><path d="M149.60,283.13 L152.40,285.93 L149.60,288.73 L146.80,285.93 Z" fill="none" stroke="#ff0000" stroke-width="1.3"/><path d="M150.00,288.58 L152.80,291.38 L150.00,294.18 L147.20,291.38 Z" fill="none" stroke="#ff0000" stroke-width="1.3"/><path d="M150.40,284.30 L153.20,287.10 L150.40,289.90 L147.60,287.10 Z" fill="none" stroke="#ff0000" stroke-width="1.3"/><path d="M150.80,281.77 L153.60,284.57 L150.80,287.37 L148.00,284.57 Z" fill="none" stroke="#ff0000" stroke-width="1.3"/><path d="M151.20,284.84 L154.00,287.64 L151.20,290.44 L148.40,287.64 Z" fill="none" stroke="#ff0000" stroke-width="1.3"/><path d="M151.60,281.33 L154.40,284.13 L151.60,286.93 L148.80,284.13 Z" fill="none" stroke="#ff0000" stroke-width="1.3"/><path d="M152.00,285.15 L154.80,287.95 L152.00,290.75 L149.20,287.95 Z" fill="none" stroke="#ff0000" stroke-width="1.3"/><path d="M152.40,288.61 L155.20,291.41 L152.40,294.21 L149.60,291.41 Z" fill="none" stroke="#ff0000" stroke-width="1.3"/><path d="M152.80,287.99 L155.60,290.79 L152.80,293.59 L150.00,290.79 Z" fill="none" stroke="#ff0000" stroke-width="1.3"/><path d="M153.20,287.00 L156.00,289.80 L153.20,292.60 L150.40,289.80 Z" fill="none" stroke="#ff0000" stroke-width="1.3"/><path d="M153.60,284.08 L156.40,286.88 L153.60,289.68 L150.80,286.88 Z" fill="none" stroke="#ff0000" stroke-width="1.3"/><path d="M154.00,285.06 L156.80,287.86 L154.00,290.66 L151.20,287.86 Z" fill="none" stroke="#ff0000" stroke-width="1.3"/><path d="M154.40,283.83 L157.20,286.63 L154.40,289.43 L151.60,286.63 Z" fill="none" stroke="#ff0000" stroke-width="1.3"/><path d="M154.80,288.40 L157.60,291.20 L154.80,294.00 L152.00,291.20 Z" fill="none" stroke="#ff0000" stroke-width="1.3"/><path d="M155.20,287.04 L158.00,289.84 L155.20,292.64 L152.40,289.84 Z" fill="none" stroke="#ff0000" stroke-width="1.3"/><path d="M155.60,289.65 L158.40,292.45 L155.60,295.25 L152.80,292.45 Z" fill="none" stroke="#ff0000" stroke-width="1.3"/><path d="M156.00,287.25 L158.80,290.05 L156.00,292.85 L153.20,290.05 Z" fill="none" stroke="#ff0000" stroke-width="1.3"/><path d="M156.40,287.32 L159.20,290.12 L156.40,292.92 L153.60,290.12 Z" fill="none" stroke="#ff0000" stroke-width="1.3"/><path d="M156.80,292.39 L159.60,295.19 L156.80,297.99 L154.00,295.19 Z" fill="none" stroke="#ff0000" stroke-width="1.3"/><path d="M157.20,294.47 L160.00,297.27 L157.20,300.07 L154.40,297.27 Z" fill="none" stroke="#ff0000" stroke-width="1.3"/><path d="M157.60,294.36 L160.40,297.16 L157.60,299.96 L154.80,297.16 Z" fill="none" stroke="#ff0000" stroke-width="1.3"/><path d="M158.00,294.86 L160.80,297.66 L158.00,300.46 L155.20,297.66 Z" fill="none" stroke="#ff0000" stroke-width="1.3"/><path d="M158.40,295.78 L161.20,298.58 L158.40,301.38 L155.60,298.58 Z" fill="none" stroke="#ff0000" stroke-width="1.3"/><path d="M158.80,296.05 L161.60,298.85 L158.80,301.65 L156.00,298.85 Z" fill="none" stroke="#ff0000" stroke-width="1.3"/><path d="M159.20,293.19 L162.00,295.99 L159.20,298.79 L156.40,295.99 Z" fill="none" stroke="#ff0000" stroke-width="1.3"/><path d="M159.60,296.12 L162.40,298.92 L159.60,301.72 L156.80,298.92 Z" fill="none" stroke="#ff0000" stroke-width="1.3"/><path d="M160.00,294.78 L162.80,297.58 L160.00,300.38 L157.20,297.58 Z" fill="none" stroke="#ff0000" stroke-width="1.3"/><path d="M160.40,291.92 L163.20,294.72 L160.40,297.52 L157.60,294.72 Z" fill="none" stroke="#ff0000" stroke-width="1.3"/><path d="M160.80,291.40 L163.60,294.20 L160.80,297.00 L158.00,294.20 Z" fill="none" stroke="#ff0000" stroke-width="1.3"/><path d="M161.20,292.70 L164.00,295.50 L161.20,298.30 L158.40,295.50 Z" fill="none" stroke="#ff0000" stroke-width="1.3"/><path d="M161.60,292.04 L164.40,294.84 L161.60,297.64 L158.80,294.84 Z" fill="none" stroke="#ff0000" stroke-width="1.3"/><path d="M162.00,294.65 L164.80,297.45 L162.00,300.25 L159.20,297.45 Z" fill="none" stroke="#ff0000" stroke-width="1.3"/><path d="M162.40,296.04 L165.20,298.84 L162.40,301.64 L159.60,298.84 Z" fill="none" stroke="#ff0000" stroke-width="1.3"/><path d="M162.80,291.86 L165.60,294.66 L162.80,297.46 L160.00,294.66 Z" fill="none" stroke="#ff0000" stroke-width="1.3"/><path d="M163.20,294.88 L166.00,297.68 L163.20,300.48 L160.40,297.68 Z" fill="none" stroke="#ff0000" stroke-width="1.3"/><path d="M163.60,294.74 L166.40,297.54 L163.60,300.34 L160.80,297.54 Z" fill="none" stroke="#ff0000" stroke-width="1.3"/><path d="M164.00,293.99 L166.80,296.79 L164.00,299.59 L161.20,296.79 Z" fill="none" stroke="#ff0000" stroke-width="1.3"/><path d="M164.40,289.23 L167.20,292.03 L164.40,294.83 L161.60,292.03 Z" fill="none" stroke="#ff0000" stroke-width="1.3"/><path d="M164.80,288.47 L167.60,291.27 L164.80,294.07 L162.00,291.27 Z" fill="none" stroke="#ff0000" stroke-width="1.3"/><path d="M165.20,288.26 L168.00,291.06 L165.20,293.86 L162.40,291.06 Z" fill="none" stroke="#ff0000" stroke-width="1.3"/><path d="M165.80,288.48 L168.60,291.28 L165.80,294.08 L163.00,291.28 Z" fill="none" stroke="#ff0000" stroke-width="1.3"/><path d="M166.40,295.31 L169.20,298.11 L166.40,300.91 L163.60,298.11 Z" fill="none" stroke="#ff0000" stroke-width="1.3"/><path d="M167.00,291.87 L169.80,294.67 L167.00,297.47 L164.20,294.67 Z" fill="none" stroke="#ff0000" stroke-width="1.3"/><path d="M167.60,295.24 L170.40,298.04 L167.60,300.84 L164.80,298.04 Z" fill="none" stroke="#ff0000" stroke-width="1.3"/><path d="M168.20,294.39 L171.00,297.19 L168.20,299.99 L165.40,297.19 Z" fill="none" stroke="#ff0000" stroke-width="1.3"/><path d="M168.80,295.94 L171.60,298.74 L168.80,301.54 L166.00,298.74 Z" fill="none" stroke="#ff0000" stroke-width="1.3"/><path d="M169.40,293.57 L172.20,296.37 L169.40,299.17 L166.60,296.37 Z" fill="none" stroke="#ff0000" stroke-width="1.3"/><path d="M170.00,296.86 L172.80,299.66 L170.00,302.46 L167.20,299.66 Z" fill="none" stroke="#ff0000" stroke-width="1.3"/><path d="M170.60,296.57 L173.40,299.37 L170.60,302.17 L167.80,299.37 Z" fill="none" stroke="#ff0000" stroke-width="1.3"/><path d="M171.20,292.44 L174.00,295.24 L171.20,298.04 L168.40,295.24 Z" fill="none" stroke="#ff0000" stroke-width="1.3"/><path d="M171.80,297.11 L174.60,299.91 L171.80,302.71 L169.00,299.91 Z" fill="none" stroke="#ff0000" stroke-width="1.3"/><path d="M172.40,289.56 L175.20,292.36 L172.40,295.16 L169.60,292.36 Z" fill="none" stroke="#ff0000" stroke-width="1.3"/><path d="M173.00,288.99 L175.80,291.79 L173.00,294.59 L170.20,291.79 Z" fill="none" stroke="#ff0000" stroke-width="1.3"/><path d="M173.60,294.62 L176.40,297.42 L173.60,300.22 L170.80,297.42 Z" fill="none" stroke="#ff0000" stroke-width="1.3"/><path d="M174.20,294.40 L177.00,297.20 L174.20,300.00 L171.40,297.20 Z" fill="none" stroke="#ff0000" stroke-width="1.3"/><path d="M174.80,292.45 L177.60,295.25 L174.80,298.05 L172.00,295.25 Z" fill="none" stroke="#ff0000" stroke-width="1.3"/><path d="M175.40,291.05 L178.20,293.85 L175.40,296.65 L172.60,293.85 Z" fill="none" stroke="#ff0000" stroke-width="1.3"/><path d="M176.00,285.73 L178.80,288.53 L176.00,291.33 L173.20,288.53 Z" fill="none" stroke="#ff0000" stroke-width="1.3"/><path d="M176.60,291.88 L179.40,294.68 L176.60,297.48 L173.80,294.68 Z" fill="none" stroke="#ff0000" stroke-width="1.3"/><path d="M177.20,294.79 L180.00,297.59 L177.20,300.39 L174.40,297.59 Z" fill="none" stroke="#ff0000" stroke-width="1.3"/><path d="M177.80,294.52 L180.60,297.32 L177.80,300.12 L175.00,297.32 Z" fill="none" stroke="#ff0000" stroke-width="1.3"/><path d="M178.40,288.74 L181.20,291.54 L178.40,294.34 L175.60,291.54 Z" fill="none" stroke="#ff0000" stroke-width="1.3"/><path d="M179.00,289.80 L181.80,292.60 L179.00,295.40 L176.20,292.60 Z" fill="none" stroke="#ff0000" stroke-width="1.3"/><path d="M179.60,292.80 L182.40,295.60 L179.60,298.40 L176.80,295.60 Z" fill="none" stroke="#ff0000" stroke-width="1.3"/><path d="M180.20,291.55 L183.00,294.35 L180.20,297.15 L177.40,294.35 Z" fill="none" stroke="#ff0000" stroke-width="1.3"/><path d="M180.80,296.37 L183.60,299.17 L180.80,301.97 L178.00,299.17 Z" fill="none" stroke="#ff0000" stroke-width="1.3"/><path d="M181.40,292.52 L184.20,295.32 L181.40,298.12 L178.60,295.32 Z" fill="none" stroke="#ff0000" stroke-width="1.3"/><path d="M182.00,296.92 L184.80,299.72 L182.00,302.52 L179.20,299.72 Z" fill="none" stroke="#ff0000" stroke-width="1.3"/><path d="M182.60,296.74 L185.40,299.54 L182.60,302.34 L179.80,299.54 Z" fill="none" stroke="#ff0000" stroke-width="1.3"/><path d="M183.20,292.89 L186.00,295.69 L183.20,298.49 L180.40,295.69 Z" fill="none" stroke="#ff0000" stroke-width="1.3"/><path d="M183.80,287.87 L186.60,290.67 L183.80,293.47 L181.00,290.67 Z" fill="none" stroke="#ff0000" stroke-width="1.3"/><path d="M184.40,289.08 L187.20,291.88 L184.40,294.68 L181.60,291.88 Z" fill="none" stroke="#ff0000" stroke-width="1.3"/><path d="M185.00,285.58 L187.80,288.38 L185.00,291.18 L182.20,288.38 Z" fill="none" stroke="#ff0000" stroke-width="1.3"/><path d="M185.00,292.80 L187.80,295.60 L185.00,298.40 L182.20,295.60 Z" fill="none" stroke="#ff0000" stroke-width="1.3"/><path d="M185.60,287.37 L188.40,290.17 L185.60,292.97 L182.80,290.17 Z" fill="none" stroke="#ff0000" stroke-width="1.3"/><path d="M186.20,291.38 L189.00,294.18 L186.20,296.98 L183.40,294.18 Z" fill="none" stroke="#ff0000" stroke-width="1.3"/><path d="M186.80,293.34 L189.60,296.14 L186.80,298.94 L184.00,296.14 Z" fill="none" stroke="#ff0000" stroke-width="1.3"/><path d="M187.40,286.42 L190.20,289.22 L187.40,292.02 L184.60,289.22 Z" fill="none" stroke="#ff0000" stroke-width="1.3"/><path d="M188.00,285.99 L190.80,288.79 L188.00,291.59 L185.20,288.79 Z" fill="none" stroke="#ff0000" stroke-width="1.3"/><path d="M188.60,290.16 L191.40,292.96 L188.60,295.76 L185.80,292.96 Z" fill="none" stroke="#ff0000" stroke-width="1.3"/><path d="M189.39,283.27 L192.19,286.07 L189.39,288.87 L186.59,286.07 Z" fill="none" stroke="#ff0000" stroke-width="1.3"/><path d="M189.20,292.04 L192.00,294.84 L189.20,297.64 L186.40,294.84 Z" fill="none" stroke="#ff0000" stroke-width="1.3"/><path d="M189.80,291.51 L192.60,294.31 L189.80,297.11 L187.00,294.31 Z" fill="none" stroke="#ff0000" stroke-width="1.3"/><path d="M190.40,291.36 L193.20,294.16 L190.40,296.96 L187.60,294.16 Z" fill="none" stroke="#ff0000" stroke-width="1.3"/><path d="M191.00,292.00 L193.80,294.80 L191.00,297.60 L188.20,294.80 Z" fill="none" stroke="#ff0000" stroke-width="1.3"/><path d="M191.60,294.43 L194.40,297.23 L191.60,300.03 L188.80,297.23 Z" fill="none" stroke="#ff0000" stroke-width="1.3"/><path d="M192.20,297.07 L195.00,299.87 L192.20,302.67 L189.40,299.87 Z" fill="none" stroke="#ff0000" stroke-width="1.3"/><path d="M192.80,293.95 L195.60,296.75 L192.80,299.55 L190.00,296.75 Z" fill="none" stroke="#ff0000" stroke-width="1.3"/><path d="M193.40,296.93 L196.20,299.73 L193.40,302.53 L190.60,299.73 Z" fill="none" stroke="#ff0000" stroke-width="1.3"/><path d="M194.00,290.72 L196.80,293.52 L194.00,296.32 L191.20,293.52 Z" fill="none" stroke="#ff0000" stroke-width="1.3"/><path d="M194.60,289.97 L197.40,292.77 L194.60,295.57 L191.80,292.77 Z" fill="none" stroke="#ff0000" stroke-width="1.3"/><path d="M195.20,289.67 L198.00,292.47 L195.20,295.27 L192.40,292.47 Z" fill="none" stroke="#ff0000" stroke-width="1.3"/><path d="M195.80,295.91 L198.60,298.71 L195.80,301.51 L193.00,298.71 Z" fill="none" stroke="#ff0000" stroke-width="1.3"/><path d="M196.40,289.82 L199.20,292.62 L196.40,295.42 L193.60,292.62 Z" fill="none" stroke="#ff0000" stroke-width="1.3"/><path d="M197.00,294.17 L199.80,296.97 L197.00,299.77 L194.20,296.97 Z" fill="none" stroke="#ff0000" stroke-width="1.3"/><path d="M197.60,295.92 L200.40,298.72 L197.60,301.52 L194.80,298.72 Z" fill="none" stroke="#ff0000" stroke-width="1.3"/><path d="M198.20,289.52 L201.00,292.32 L198.20,295.12 L195.40,292.32 Z" fill="none" stroke="#ff0000" stroke-width="1.3"/><path d="M198.80,290.86 L201.60,293.66 L198.80,296.46 L196.00,293.66 Z" fill="none" stroke="#ff0000" stroke-width="1.3"/><path d="M199.40,296.01 L202.20,298.81 L199.40,301.61 L196.60,298.81 Z" fill="none" stroke="#ff0000" stroke-width="1.3"/><path d="M200.00,288.09 L202.80,290.89 L200.00,293.69 L197.20,290.89 Z" fill="none" stroke="#ff0000" stroke-width="1.3"/><path d="M200.60,291.54 L203.40,294.34 L200.60,297.14 L197.80,294.34 Z" fill="none" stroke="#ff0000" stroke-width="1.3"/><path d="M201.20,288.80 L204.00,291.60 L201.20,294.40 L198.40,291.60 Z" fill="none" stroke="#ff0000" stroke-width="1.3"/><path d="M201.80,293.84 L204.60,296.64 L201.80,299.44 L199.00,296.64 Z" fill="none" stroke="#ff0000" stroke-width="1.3"/><path d="M201.91,299.91 L204.71,302.71 L201.91,305.51 L199.11,302.71 Z" fill="none" stroke="#ff0000" stroke-width="1.3"/><path d="M202.40,290.94 L205.20,293.74 L202.40,296.54 L199.60,293.74 Z" fill="none" stroke="#ff0000" stroke-width="1.3"/><path d="M203.00,290.32 L205.80,293.12 L203.00,295.92 L200.20,293.12 Z" fill="none" stroke="#ff0000" stroke-width="1.3"/><path d="M203.60,288.84 L206.40,291.64 L203.60,294.44 L200.80,291.64 Z" fill="none" stroke="#ff0000" stroke-width="1.3"/><path d="M204.20,290.10 L207.00,292.90 L204.20,295.70 L201.40,292.90 Z" fill="none" stroke="#ff0000" stroke-width="1.3"/><path d="M204.80,288.97 L207.60,291.77 L204.80,294.57 L202.00,291.77 Z" fill="none" stroke="#ff0000" stroke-width="1.3"/><path d="M205.40,296.73 L208.20,299.53 L205.40,302.33 L202.60,299.53 Z" fill="none" stroke="#ff0000" stroke-width="1.3"/><path d="M206.00,295.55 L208.80,298.35 L206.00,301.15 L203.20,298.35 Z" fill="none" stroke="#ff0000" stroke-width="1.3"/><path d="M206.60,296.02 L209.40,298.82 L206.60,301.62 L203.80,298.82 Z" fill="none" stroke="#ff0000" stroke-width="1.3"/><path d="M207.20,296.50 L210.00,299.30 L207.20,302.10 L204.40,299.30 Z" fill="none" stroke="#ff0000" stroke-width="1.3"/><path d="M207.80,292.34 L210.60,295.14 L207.80,297.94 L205.00,295.14 Z" fill="none" stroke="#ff0000" stroke-width="1.3"/><path d="M208.40,291.55 L211.20,294.35 L208.40,297.15 L205.60,294.35 Z" fill="none" stroke="#ff0000" stroke-width="1.3"/><path d="M209.00,289.17 L211.80,291.97 L209.00,294.77 L206.20,291.97 Z" fill="none" stroke="#ff0000" stroke-width="1.3"/><path d="M209.60,287.89 L212.40,290.69 L209.60,293.49 L206.80,290.69 Z" fill="none" stroke="#ff0000" stroke-width="1.3"/><path d="M210.20,288.27 L213.00,291.07 L210.20,293.87 L207.40,291.07 Z" fill="none" stroke="#ff0000" stroke-width="1.3"/><path d="M209.38,296.65 L212.18,299.45 L209.38,302.25 L206.58,299.45 Z" fill="none" stroke="#ff0000" stroke-width="1.3"/><path d="M210.80,293.28 L213.60,296.08 L210.80,298.88 L208.00,296.08 Z" fill="none" stroke="#ff0000" stroke-width="1.3"/><path d="M211.40,292.94 L214.20,295.74 L211.40,298.54 L208.60,295.74 Z" fill="none" stroke="#ff0000" stroke-width="1.3"/><path d="M212.00,287.72 L214.80,290.52 L212.00,293.32 L209.20,290.52 Z" fill="none" stroke="#ff0000" stroke-width="1.3"/><path d="M212.60,293.63 L215.40,296.43 L212.60,299.23 L209.80,296.43 Z" fill="none" stroke="#ff0000" stroke-width="1.3"/><path d="M213.20,286.79 L216.00,289.59 L213.20,292.39 L210.40,289.59 Z" fill="none" stroke="#ff0000" stroke-width="1.3"/><path d="M213.80,288.29 L216.60,291.09 L213.80,293.89 L211.00,291.09 Z" fill="none" stroke="#ff0000" stroke-width="1.3"/><path d="M214.40,288.09 L217.20,290.89 L214.40,293.69 L211.60,290.89 Z" fill="none" stroke="#ff0000" stroke-width="1.3"/><path d="M213.80,299.09 L216.60,301.89 L213.80,304.69 L211.00,301.89 Z" fill="none" stroke="#ff0000" stroke-width="1.3"/><path d="M215.00,291.99 L217.80,294.79 L215.00,297.59 L212.20,294.79 Z" fill="none" stroke="#ff0000" stroke-width="1.3"/><path d="M215.60,291.70 L218.40,294.50 L215.60,297.30 L212.80,294.50 Z" fill="none" stroke="#ff0000" stroke-width="1.3"/><path d="M216.20,290.59 L219.00,293.39 L216.20,296.19 L213.40,293.39 Z" fill="none" stroke="#ff0000" stroke-width="1.3"/><path d="M216.80,297.75 L219.60,300.55 L216.80,303.35 L214.00,300.55 Z" fill="none" stroke="#ff0000" stroke-width="1.3"/><path d="M215.84,285.66 L218.64,288.46 L215.84,291.26 L213.04,288.46 Z" fill="none" stroke="#ff0000" stroke-width="1.3"/><path d="M217.40,291.36 L220.20,294.16 L217.40,296.96 L214.60,294.16 Z" fill="none" stroke="#ff0000" stroke-width="1.3"/><path d="M218.00,295.66 L220.80,298.46 L218.00,301.26 L215.20,298.46 Z" fill="none" stroke="#ff0000" stroke-width="1.3"/><path d="M218.60,295.24 L221.40,298.04 L218.60,300.84 L215.80,298.04 Z" fill="none" stroke="#ff0000" stroke-width="1.3"/><path d="M219.20,296.98 L222.00,299.78 L219.20,302.58 L216.40,299.78 Z" fill="none" stroke="#ff0000" stroke-width="1.3"/><path d="M219.80,291.23 L222.60,294.03 L219.80,296.83 L217.00,294.03 Z" fill="none" stroke="#ff0000" stroke-width="1.3"/><path d="M220.40,290.11 L223.20,292.91 L220.40,295.71 L217.60,292.91 Z" fill="none" stroke="#ff0000" stroke-width="1.3"/><path d="M221.00,295.71 L223.80,298.51 L221.00,301.31 L218.20,298.51 Z" fill="none" stroke="#ff0000" stroke-width="1.3"/><path d="M221.60,288.49 L224.40,291.29 L221.60,294.09 L218.80,291.29 Z" fill="none" stroke="#ff0000" stroke-width="1.3"/><path d="M222.20,295.83 L225.00,298.63 L222.20,301.43 L219.40,298.63 Z" fill="none" stroke="#ff0000" stroke-width="1.3"/><path d="M222.80,286.53 L225.60,289.33 L222.80,292.13 L220.00,289.33 Z" fill="none" stroke="#ff0000" stroke-width="1.3"/><path d="M223.40,294.09 L226.20,296.89 L223.40,299.69 L220.60,296.89 Z" fill="none" stroke="#ff0000" stroke-width="1.3"/><path d="M224.00,286.11 L226.80,288.91 L224.00,291.71 L221.20,288.91 Z" fill="none" stroke="#ff0000" stroke-width="1.3"/><path d="M224.60,289.40 L227.40,292.20 L224.60,295.00 L221.80,292.20 Z" fill="none" stroke="#ff0000" stroke-width="1.3"/><path d="M225.20,295.13 L228.00,297.93 L225.20,300.73 L222.40,297.93 Z" fill="none" stroke="#ff0000" stroke-width="1.3"/><path d="M225.80,292.87 L228.60,295.67 L225.80,298.47 L223.00,295.67 Z" fill="none" stroke="#ff0000" stroke-width="1.3"/><path d="M225.17,298.44 L227.97,301.24 L225.17,304.04 L222.37,301.24 Z" fill="none" stroke="#ff0000" stroke-width="1.3"/><path d="M226.40,289.22 L229.20,292.02 L226.40,294.82 L223.60,292.02 Z" fill="none" stroke="#ff0000" stroke-width="1.3"/><path d="M227.00,296.05 L229.80,298.85 L227.00,301.65 L224.20,298.85 Z" fill="none" stroke="#ff0000" stroke-width="1.3"/><path d="M227.60,289.65 L230.40,292.45 L227.60,295.25 L224.80,292.45 Z" fill="none" stroke="#ff0000" stroke-width="1.3"/><path d="M228.20,290.55 L231.00,293.35 L228.20,296.15 L225.40,293.35 Z" fill="none" stroke="#ff0000" stroke-width="1.3"/><path d="M228.80,288.01 L231.60,290.81 L228.80,293.61 L226.00,290.81 Z" fill="none" stroke="#ff0000" stroke-width="1.3"/><path d="M229.40,292.67 L232.20,295.47 L229.40,298.27 L226.60,295.47 Z" fill="none" stroke="#ff0000" stroke-width="1.3"/><path d="M230.00,290.45 L232.80,293.25 L230.00,296.05 L227.20,293.25 Z" fill="none" stroke="#ff0000" stroke-width="1.3"/><path d="M230.60,288.35 L233.40,291.15 L230.60,293.95 L227.80,291.15 Z" fill="none" stroke="#ff0000" stroke-width="1.3"/><path d="M231.20,288.83 L234.00,291.63 L231.20,294.43 L228.40,291.63 Z" fill="none" stroke="#ff0000" stroke-width="1.3"/><path d="M231.80,288.08 L234.60,290.88 L231.80,293.68 L229.00,290.88 Z" fill="none" stroke="#ff0000" stroke-width="1.3"/><path d="M231.41,286.05 L234.21,288.85 L231.41,291.65 L228.61,288.85 Z" fill="none" stroke="#ff0000" stroke-width="1.3"/><path d="M232.40,296.21 L235.20,299.01 L232.40,301.81 L229.60,299.01 Z" fill="none" stroke="#ff0000" stroke-width="1.3"/><path d="M233.00,288.53 L235.80,291.33 L233.00,294.13 L230.20,291.33 Z" fill="none" stroke="#ff0000" stroke-width="1.3"/><path d="M233.60,294.01 L236.40,296.81 L233.60,299.61 L230.80,296.81 Z" fill="none" stroke="#ff0000" stroke-width="1.3"/><path d="M234.20,293.53 L237.00,296.33 L234.20,299.13 L231.40,296.33 Z" fill="none" stroke="#ff0000" stroke-width="1.3"/><path d="M234.80,290.75 L237.60,293.55 L234.80,296.35 L232.00,293.55 Z" fill="none" stroke="#ff0000" stroke-width="1.3"/><path d="M235.40,291.59 L238.20,294.39 L235.40,297.19 L232.60,294.39 Z" fill="none" stroke="#ff0000" stroke-width="1.3"/><path d="M236.00,293.19 L238.80,295.99 L236.00,298.79 L233.20,295.99 Z" fill="none" stroke="#ff0000" stroke-width="1.3"/><path d="M236.60,290.12 L239.40,292.92 L236.60,295.72 L233.80,292.92 Z" fill="none" stroke="#ff0000" stroke-width="1.3"/><path d="M237.20,291.65 L240.00,294.45 L237.20,297.25 L234.40,294.45 Z" fill="none" stroke="#ff0000" stroke-width="1.3"/><path d="M237.80,293.37 L240.60,296.17 L237.80,298.97 L235.00,296.17 Z" fill="none" stroke="#ff0000" stroke-width="1.3"/><path d="M238.40,290.03 L241.20,292.83 L238.40,295.63 L235.60,292.83 Z" fill="none" stroke="#ff0000" stroke-width="1.3"/><path d="M239.00,284.75 L241.80,287.55 L239.00,290.35 L236.20,287.55 Z" fill="none" stroke="#ff0000" stroke-width="1.3"/><path d="M239.60,291.74 L242.40,294.54 L239.60,297.34 L236.80,294.54 Z" fill="none" stroke="#ff0000" stroke-width="1.3"/><path d="M240.20,293.00 L243.00,295.80 L240.20,298.60 L237.40,295.80 Z" fill="none" stroke="#ff0000" stroke-width="1.3"/><path d="M240.80,284.78 L243.60,287.58 L240.80,290.38 L238.00,287.58 Z" fill="none" stroke="#ff0000" stroke-width="1.3"/><path d="M241.07,281.47 L243.87,284.27 L241.07,287.07 L238.27,284.27 Z" fill="none" stroke="#ff0000" stroke-width="1.3"/><path d="M241.40,287.95 L244.20,290.75 L241.40,293.55 L238.60,290.75 Z" fill="none" stroke="#ff0000" stroke-width="1.3"/><path d="M240.44,280.93 L243.24,283.73 L240.44,286.53 L237.64,283.73 Z" fill="none" stroke="#ff0000" stroke-width="1.3"/><path d="M242.00,283.63 L244.80,286.43 L242.00,289.23 L239.20,286.43 Z" fill="none" stroke="#ff0000" stroke-width="1.3"/><path d="M242.60,291.08 L245.40,293.88 L242.60,296.68 L239.80,293.88 Z" fill="none" stroke="#ff0000" stroke-width="1.3"/><path d="M243.20,289.72 L246.00,292.52 L243.20,295.32 L240.40,292.52 Z" fill="none" stroke="#ff0000" stroke-width="1.3"/><path d="M243.80,286.01 L246.60,288.81 L243.80,291.61 L241.00,288.81 Z" fill="none" stroke="#ff0000" stroke-width="1.3"/><path d="M244.40,288.32 L247.20,291.12 L244.40,293.92 L241.60,291.12 Z" fill="none" stroke="#ff0000" stroke-width="1.3"/><path d="M245.00,289.04 L247.80,291.84 L245.00,294.64 L242.20,291.84 Z" fill="none" stroke="#ff0000" stroke-width="1.3"/><path d="M245.60,289.09 L248.40,291.89 L245.60,294.69 L242.80,291.89 Z" fill="none" stroke="#ff0000" stroke-width="1.3"/><path d="M246.20,296.78 L249.00,299.58 L246.20,302.38 L243.40,299.58 Z" fill="none" stroke="#ff0000" stroke-width="1.3"/><path d="M246.80,291.92 L249.60,294.72 L246.80,297.52 L244.00,294.72 Z" fill="none" stroke="#ff0000" stroke-width="1.3"/><path d="M247.40,295.29 L250.20,298.09 L247.40,300.89 L244.60,298.09 Z" fill="none" stroke="#ff0000" stroke-width="1.3"/><path d="M248.00,295.28 L250.80,298.08 L248.00,300.88 L245.20,298.08 Z" fill="none" stroke="#ff0000" stroke-width="1.3"/><path d="M248.60,289.91 L251.40,292.71 L248.60,295.51 L245.80,292.71 Z" fill="none" stroke="#ff0000" stroke-width="1.3"/><path d="M249.20,291.14 L252.00,293.94 L249.20,296.74 L246.40,293.94 Z" fill="none" stroke="#ff0000" stroke-width="1.3"/><path d="M249.80,291.20 L252.60,294.00 L249.80,296.80 L247.00,294.00 Z" fill="none" stroke="#ff0000" stroke-width="1.3"/><path d="M250.40,288.11 L253.20,290.91 L250.40,293.71 L247.60,290.91 Z" fill="none" stroke="#ff0000" stroke-width="1.3"/><path d="M251.00,290.07 L253.80,292.87 L251.00,295.67 L248.20,292.87 Z" fill="none" stroke="#ff0000" stroke-width="1.3"/><path d="M251.60,293.57 L254.40,296.37 L251.60,299.17 L248.80,296.37 Z" fill="none" stroke="#ff0000" stroke-width="1.3"/><path d="M252.20,289.48 L255.00,292.28 L252.20,295.08 L249.40,292.28 Z" fill="none" stroke="#ff0000" stroke-width="1.3"/><path d="M252.80,290.67 L255.60,293.47 L252.80,296.27 L250.00,293.47 Z" fill="none" stroke="#ff0000" stroke-width="1.3"/><path d="M253.40,287.09 L256.20,289.89 L253.40,292.69 L250.60,289.89 Z" fill="none" stroke="#ff0000" stroke-width="1.3"/><path d="M254.00,287.43 L256.80,290.23 L254.00,293.03 L251.20,290.23 Z" fill="none" stroke="#ff0000" stroke-width="1.3"/><path d="M254.60,294.51 L257.40,297.31 L254.60,300.11 L251.80,297.31 Z" fill="none" stroke="#ff0000" stroke-width="1.3"/><path d="M254.52,299.48 L257.32,302.28 L254.52,305.08 L251.72,302.28 Z" fill="none" stroke="#ff0000" stroke-width="1.3"/><path d="M255.20,289.76 L258.00,292.56 L255.20,295.36 L252.40,292.56 Z" fill="none" stroke="#ff0000" stroke-width="1.3"/><path d="M255.80,295.06 L258.60,297.86 L255.80,300.66 L253.00,297.86 Z" fill="none" stroke="#ff0000" stroke-width="1.3"/><path d="M256.40,287.63 L259.20,290.43 L256.40,293.23 L253.60,290.43 Z" fill="none" stroke="#ff0000" stroke-width="1.3"/><path d="M257.00,289.51 L259.80,292.31 L257.00,295.11 L254.20,292.31 Z" fill="none" stroke="#ff0000" stroke-width="1.3"/><path d="M257.60,292.95 L260.40,295.75 L257.60,298.55 L254.80,295.75 Z" fill="none" stroke="#ff0000" stroke-width="1.3"/><path d="M258.20,290.27 L261.00,293.07 L258.20,295.87 L255.40,293.07 Z" fill="none" stroke="#ff0000" stroke-width="1.3"/><path d="M258.80,291.36 L261.60,294.16 L258.80,296.96 L256.00,294.16 Z" fill="none" stroke="#ff0000" stroke-width="1.3"/><path d="M259.40,296.36 L262.20,299.16 L259.40,301.96 L256.60,299.16 Z" fill="none" stroke="#ff0000" stroke-width="1.3"/><path d="M260.00,290.06 L262.80,292.86 L260.00,295.66 L257.20,292.86 Z" fill="none" stroke="#ff0000" stroke-width="1.3"/><path d="M260.60,294.47 L263.40,297.27 L260.60,300.07 L257.80,297.27 Z" fill="none" stroke="#ff0000" stroke-width="1.3"/><path d="M261.20,294.49 L264.00,297.29 L261.20,300.09 L258.40,297.29 Z" fill="none" stroke="#ff0000" stroke-width="1.3"/><path d="M261.80,290.86 L264.60,293.66 L261.80,296.46 L259.00,293.66 Z" fill="none" stroke="#ff0000" stroke-width="1.3"/><path d="M262.40,290.05 L265.20,292.85 L262.40,295.65 L259.60,292.85 Z" fill="none" stroke="#ff0000" stroke-width="1.3"/><path d="M263.00,289.71 L265.80,292.51 L263.00,295.31 L260.20,292.51 Z" fill="none" stroke="#ff0000" stroke-width="1.3"/><path d="M263.60,294.85 L266.40,297.65 L263.60,300.45 L260.80,297.65 Z" fill="none" stroke="#ff0000" stroke-width="1.3"/><path d="M264.20,285.91 L267.00,288.71 L264.20,291.51 L261.40,288.71 Z" fill="none" stroke="#ff0000" stroke-width="1.3"/><path d="M264.80,287.73 L267.60,290.53 L264.80,293.33 L262.00,290.53 Z" fill="none" stroke="#ff0000" stroke-width="1.3"/><path d="M265.40,288.59 L268.20,291.39 L265.40,294.19 L262.60,291.39 Z" fill="none" stroke="#ff0000" stroke-width="1.3"/><path d="M266.00,285.30 L268.80,288.10 L266.00,290.90 L263.20,288.10 Z" fill="none" stroke="#ff0000" stroke-width="1.3"/><path d="M266.60,292.05 L269.40,294.85 L266.60,297.65 L263.80,294.85 Z" fill="none" stroke="#ff0000" stroke-width="1.3"/><path d="M267.20,288.18 L270.00,290.98 L267.20,293.78 L264.40,290.98 Z" fill="none" stroke="#ff0000" stroke-width="1.3"/><path d="M267.52,283.45 L270.32,286.25 L267.52,289.05 L264.72,286.25 Z" fill="none" stroke="#ff0000" stroke-width="1.3"/><path d="M267.80,288.54 L270.60,291.34 L267.80,294.14 L265.00,291.34 Z" fill="none" stroke="#ff0000" stroke-width="1.3"/><path d="M268.40,288.35 L271.20,291.15 L268.40,293.95 L265.60,291.15 Z" fill="none" stroke="#ff0000" stroke-width="1.3"/><path d="M269.00,295.90 L271.80,298.70 L269.00,301.50 L266.20,298.70 Z" fill="none" stroke="#ff0000" stroke-width="1.3"/><path d="M269.60,295.07 L272.40,297.87 L269.60,300.67 L266.80,297.87 Z" fill="none" stroke="#ff0000" stroke-width="1.3"/><path d="M270.20,296.50 L273.00,299.30 L270.20,302.10 L267.40,299.30 Z" fill="none" stroke="#ff0000" stroke-width="1.3"/><path d="M270.80,293.65 L273.60,296.45 L270.80,299.25 L268.00,296.45 Z" fill="none" stroke="#ff0000" stroke-width="1.3"/><path d="M271.40,289.56 L274.20,292.36 L271.40,295.16 L268.60,292.36 Z" fill="none" stroke="#ff0000" stroke-width="1.3"/><path d="M272.00,293.75 L274.80,296.55 L272.00,299.35 L269.20,296.55 Z" fill="none" stroke="#ff0000" stroke-width="1.3"/><path d="M272.60,295.13 L275.40,297.93 L272.60,300.73 L269.80,297.93 Z" fill="none" stroke="#ff0000" stroke-width="1.3"/><path d="M273.20,289.25 L276.00,292.05 L273.20,294.85 L270.40,292.05 Z" fill="none" stroke="#ff0000" stroke-width="1.3"/><path d="M273.80,289.57 L276.60,292.37 L273.80,295.17 L271.00,292.37 Z" fill="none" stroke="#ff0000" stroke-width="1.3"/><path d="M274.40,291.16 L277.20,293.96 L274.40,296.76 L271.60,293.96 Z" fill="none" stroke="#ff0000" stroke-width="1.3"/><path d="M275.00,294.40 L277.80,297.20 L275.00,300.00 L272.20,297.20 Z" fill="none" stroke="#ff0000" stroke-width="1.3"/><path d="M275.60,289.59 L278.40,292.39 L275.60,295.19 L272.80,292.39 Z" fill="none" stroke="#ff0000" stroke-width="1.3"/><path d="M276.20,289.57 L279.00,292.37 L276.20,295.17 L273.40,292.37 Z" fill="none" stroke="#ff0000" stroke-width="1.3"/><path d="M276.80,290.03 L279.60,292.83 L276.80,295.63 L274.00,292.83 Z" fill="none" stroke="#ff0000" stroke-width="1.3"/><path d="M277.40,287.49 L280.20,290.29 L277.40,293.09 L274.60,290.29 Z" fill="none" stroke="#ff0000" stroke-width="1.3"/><path d="M278.00,293.93 L280.80,296.73 L278.00,299.53 L275.20,296.73 Z" fill="none" stroke="#ff0000" stroke-width="1.3"/><path d="M278.60,287.92 L281.40,290.72 L278.60,293.52 L275.80,290.72 Z" fill="none" stroke="#ff0000" stroke-width="1.3"/><path d="M279.20,295.37 L282.00,298.17 L279.20,300.97 L276.40,298.17 Z" fill="none" stroke="#ff0000" stroke-width="1.3"/><path d="M279.80,287.78 L282.60,290.58 L279.80,293.38 L277.00,290.58 Z" fill="none" stroke="#ff0000" stroke-width="1.3"/><path d="M280.40,287.63 L283.20,290.43 L280.40,293.23 L277.60,290.43 Z" fill="none" stroke="#ff0000" stroke-width="1.3"/><path d="M281.00,287.94 L283.80,290.74 L281.00,293.54 L278.20,290.74 Z" fill="none" stroke="#ff0000" stroke-width="1.3"/><path d="M281.60,289.78 L284.40,292.58 L281.60,295.38 L278.80,292.58 Z" fill="none" stroke="#ff0000" stroke-width="1.3"/><path d="M282.20,295.86 L285.00,298.66 L282.20,301.46 L279.40,298.66 Z" fill="none" stroke="#ff0000" stroke-width="1.3"/><path d="M282.80,291.80 L285.60,294.60 L282.80,297.40 L280.00,294.60 Z" fill="none" stroke="#ff0000" stroke-width="1.3"/><path d="M283.40,293.12 L286.20,295.92 L283.40,298.72 L280.60,295.92 Z" fill="none" stroke="#ff0000" stroke-width="1.3"/><path d="M284.00,291.71 L286.80,294.51 L284.00,297.31 L281.20,294.51 Z" fill="none" stroke="#ff0000" stroke-width="1.3"/><path d="M284.60,290.95 L287.40,293.75 L284.60,296.55 L281.80,293.75 Z" fill="none" stroke="#ff0000" stroke-width="1.3"/><path d="M285.20,289.36 L288.00,292.16 L285.20,294.96 L282.40,292.16 Z" fill="none" stroke="#ff0000" stroke-width="1.3"/><path d="M285.80,293.79 L288.60,296.59 L285.80,299.39 L283.00,296.59 Z" fill="none" stroke="#ff0000" stroke-width="1.3"/><path d="M286.40,289.79 L289.20,292.59 L286.40,295.39 L283.60,292.59 Z" fill="none" stroke="#ff0000" stroke-width="1.3"/><path d="M287.00,289.89 L289.80,292.69 L287.00,295.49 L284.20,292.69 Z" fill="none" stroke="#ff0000" stroke-width="1.3"/><path d="M287.60,291.50 L290.40,294.30 L287.60,297.10 L284.80,294.30 Z" fill="none" stroke="#ff0000" stroke-width="1.3"/><path d="M288.20,295.01 L291.00,297.81 L288.20,300.61 L285.40,297.81 Z" fill="none" stroke="#ff0000" stroke-width="1.3"/><path d="M288.80,287.20 L291.60,290.00 L288.80,292.80 L286.00,290.00 Z" fill="none" stroke="#ff0000" stroke-width="1.3"/><path d="M289.22,300.50 L292.02,303.30 L289.22,306.10 L286.42,303.30 Z" fill="none" stroke="#ff0000" stroke-width="1.3"/><path d="M289.40,291.31 L292.20,294.11 L289.40,296.91 L286.60,294.11 Z" fill="none" stroke="#ff0000" stroke-width="1.3"/><path d="M290.00,295.16 L292.80,297.96 L290.00,300.76 L287.20,297.96 Z" fill="none" stroke="#ff0000" stroke-width="1.3"/><path d="M290.60,291.56 L293.40,294.36 L290.60,297.16 L287.80,294.36 Z" fill="none" stroke="#ff0000" stroke-width="1.3"/><path d="M291.20,290.93 L294.00,293.73 L291.20,296.53 L288.40,293.73 Z" fill="none" stroke="#ff0000" stroke-width="1.3"/><path d="M291.80,288.96 L294.60,291.76 L291.80,294.56 L289.00,291.76 Z" fill="none" stroke="#ff0000" stroke-width="1.3"/><path d="M292.40,295.94 L295.20,298.74 L292.40,301.54 L289.60,298.74 Z" fill="none" stroke="#ff0000" stroke-width="1.3"/><path d="M293.00,294.69 L295.80,297.49 L293.00,300.29 L290.20,297.49 Z" fill="none" stroke="#ff0000" stroke-width="1.3"/><path d="M293.60,294.99 L296.40,297.79 L293.60,300.59 L290.80,297.79 Z" fill="none" stroke="#ff0000" stroke-width="1.3"/><path d="M294.20,288.08 L297.00,290.88 L294.20,293.68 L291.40,290.88 Z" fill="none" stroke="#ff0000" stroke-width="1.3"/><path d="M294.80,287.41 L297.60,290.21 L294.80,293.01 L292.00,290.21 Z" fill="none" stroke="#ff0000" stroke-width="1.3"/><path d="M295.40,292.74 L298.20,295.54 L295.40,298.34 L292.60,295.54 Z" fill="none" stroke="#ff0000" stroke-width="1.3"/><path d="M295.83,284.22 L298.63,287.02 L295.83,289.82 L293.03,287.02 Z" fill="none" stroke="#ff0000" stroke-width="1.3"/><path d="M296.00,292.46 L298.80,295.26 L296.00,298.06 L293.20,295.26 Z" fill="none" stroke="#ff0000" stroke-width="1.3"/><path d="M296.60,294.89 L299.40,297.69 L296.60,300.49 L293.80,297.69 Z" fill="none" stroke="#ff0000" stroke-width="1.3"/><path d="M297.20,290.90 L300.00,293.70 L297.20,296.50 L294.40,293.70 Z" fill="none" stroke="#ff0000" stroke-width="1.3"/><path d="M297.80,290.16 L300.60,292.96 L297.80,295.76 L295.00,292.96 Z" fill="none" stroke="#ff0000" stroke-width="1.3"/><path d="M298.40,295.94 L301.20,298.74 L298.40,301.54 L295.60,298.74 Z" fill="none" stroke="#ff0000" stroke-width="1.3"/><path d="M298.47,300.10 L301.27,302.90 L298.47,305.70 L295.67,302.90 Z" fill="none" stroke="#ff0000" stroke-width="1.3"/><path d="M299.00,291.84 L301.80,294.64 L299.00,297.44 L296.20,294.64 Z" fill="none" stroke="#ff0000" stroke-width="1.3"/><path d="M299.60,291.43 L302.40,294.23 L299.60,297.03 L296.80,294.23 Z" fill="none" stroke="#ff0000" stroke-width="1.3"/><path d="M300.20,294.50 L303.00,297.30 L300.20,300.10 L297.40,297.30 Z" fill="none" stroke="#ff0000" stroke-width="1.3"/><path d="M300.02,300.23 L302.82,303.03 L300.02,305.83 L297.22,303.03 Z" fill="none" stroke="#ff0000" stroke-width="1.3"/><path d="M109.50,276.80 L112.30,279.60 L109.50,282.40 L106.70,279.60 Z" fill="none" stroke="#ff0000" stroke-width="1.3"/><path d="M159.70,253.20 L162.50,256.00 L159.70,258.80 L156.90,256.00 Z" fill="none" stroke="#ff0000" stroke-width="1.3"/><path d="M266.60,269.70 L269.40,272.50 L266.60,275.30 L263.80,272.50 Z" fill="none" stroke="#ff0000" stroke-width="1.3"/><path d="M274.10,272.00 L276.90,274.80 L274.10,277.60 L271.30,274.80 Z" fill="none" stroke="#ff0000" stroke-width="1.3"/><path d="M206.10,278.50 L208.90,281.30 L206.10,284.10 L203.30,281.30 Z" fill="none" stroke="#ff0000" stroke-width="1.3"/><path d="M206.60,280.20 L209.40,283.00 L206.60,285.80 L203.80,283.00 Z" fill="none" stroke="#ff0000" stroke-width="1.3"/><path d="M243.40,275.00 L246.20,277.80 L243.40,280.60 L240.60,277.80 Z" fill="none" stroke="#ff0000" stroke-width="1.3"/><path d="M248.20,274.60 L251.00,277.40 L248.20,280.20 L245.40,277.40 Z" fill="none" stroke="#ff0000" stroke-width="1.3"/><path d="M282.30,276.70 L285.10,279.50 L282.30,282.30 L279.50,279.50 Z" fill="none" stroke="#ff0000" stroke-width="1.3"/><path d="M296.20,275.00 L299.00,277.80 L296.20,280.60 L293.40,277.80 Z" fill="none" stroke="#ff0000" stroke-width="1.3"/><path d="M299.50,303.40 L302.30,306.20 L299.50,309.00 L296.70,306.20 Z" fill="none" stroke="#ff0000" stroke-width="1.3"/><path d="M249.90,299.90 L252.70,302.70 L249.90,305.50 L247.10,302.70 Z" fill="none" stroke="#ff0000" stroke-width="1.3"/><path d="M226.00,280.30 L228.80,283.10 L226.00,285.90 L223.20,283.10 Z" fill="none" stroke="#ff0000" stroke-width="1.3"/><path d="M184.50,285.00 L187.30,287.80 L184.50,290.60 L181.70,287.80 Z" fill="none" stroke="#ff0000" stroke-width="1.3"/><path d="M89.50,298.70 L92.30,301.50 L89.50,304.30 L86.70,301.50 Z" fill="none" stroke="#ff0000" stroke-width="1.3"/><path d="M117.30,301.70 L120.10,304.50 L117.30,307.30 L114.50,304.50 Z" fill="none" stroke="#ff0000" stroke-width="1.3"/><path d="M135.00,302.20 L137.80,305.00 L135.00,307.80 L132.20,305.00 Z" fill="none" stroke="#ff0000" stroke-width="1.3"/><path d="M127.60,281.70 L130.40,284.50 L127.60,287.30 L124.80,284.50 Z" fill="none" stroke="#ff0000" stroke-width="1.3"/><line x1="80.50" y1="249.50" x2="304.00" y2="249.50" stroke="#555" stroke-width="1.3"/><line x1="304.00" y1="249.50" x2="304.00" y2="414.70" stroke="#777" stroke-width="1.8"/><line x1="80.50" y1="249.50" x2="80.50" y2="410.40" stroke="#444" stroke-width="1.3"/><line x1="80.50" y1="410.40" x2="304.00" y2="410.40" stroke="#444" stroke-width="1.3"/><line x1="75.00" y1="410.40" x2="80.50" y2="410.40" stroke="#444" stroke-width="1.3"/><text transform="translate(71.60,415.40) scale(1.05,1)" font-size="14" text-anchor="end" fill="#111" stroke="#111" stroke-width="0.12">0</text><line x1="76.80" y1="399.67" x2="80.50" y2="399.67" stroke="#444" stroke-width="1.3"/><line x1="76.80" y1="388.95" x2="80.50" y2="388.95" stroke="#444" stroke-width="1.3"/><line x1="75.00" y1="378.22" x2="80.50" y2="378.22" stroke="#444" stroke-width="1.3"/><text transform="translate(71.60,383.22) scale(1.05,1)" font-size="14" text-anchor="end" fill="#111" stroke="#111" stroke-width="0.12">30</text><line x1="76.80" y1="367.49" x2="80.50" y2="367.49" stroke="#444" stroke-width="1.3"/><line x1="76.80" y1="356.77" x2="80.50" y2="356.77" stroke="#444" stroke-width="1.3"/><line x1="75.00" y1="346.04" x2="80.50" y2="346.04" stroke="#444" stroke-width="1.3"/><text transform="translate(71.60,351.04) scale(1.05,1)" font-size="14" text-anchor="end" fill="#111" stroke="#111" stroke-width="0.12">60</text><line x1="76.80" y1="335.31" x2="80.50" y2="335.31" stroke="#444" stroke-width="1.3"/><line x1="76.80" y1="324.59" x2="80.50" y2="324.59" stroke="#444" stroke-width="1.3"/><line x1="75.00" y1="313.86" x2="80.50" y2="313.86" stroke="#444" stroke-width="1.3"/><text transform="translate(71.60,318.86) scale(1.05,1)" font-size="14" text-anchor="end" fill="#111" stroke="#111" stroke-width="0.12">90</text><line x1="76.80" y1="303.13" x2="80.50" y2="303.13" stroke="#444" stroke-width="1.3"/><line x1="76.80" y1="292.41" x2="80.50" y2="292.41" stroke="#444" stroke-width="1.3"/><line x1="75.00" y1="281.68" x2="80.50" y2="281.68" stroke="#444" stroke-width="1.3"/><text transform="translate(71.60,286.68) scale(1.05,1)" font-size="14" text-anchor="end" fill="#111" stroke="#111" stroke-width="0.12">120</text><line x1="76.80" y1="270.95" x2="80.50" y2="270.95" stroke="#444" stroke-width="1.3"/><line x1="76.80" y1="260.23" x2="80.50" y2="260.23" stroke="#444" stroke-width="1.3"/><line x1="75.00" y1="249.50" x2="80.50" y2="249.50" stroke="#444" stroke-width="1.3"/><text transform="translate(71.60,254.50) scale(1.05,1)" font-size="14" text-anchor="end" fill="#111" stroke="#111" stroke-width="0.12">150</text><line x1="80.50" y1="410.40" x2="80.50" y2="416.60" stroke="#444" stroke-width="1.3"/><text transform="translate(80.50,434.40) scale(1.05,1)" font-size="14" text-anchor="middle" fill="#111" stroke="#111" stroke-width="0.12">8.0</text><line x1="105.33" y1="410.40" x2="105.33" y2="414.60" stroke="#444" stroke-width="1.3"/><line x1="130.17" y1="410.40" x2="130.17" y2="416.60" stroke="#444" stroke-width="1.3"/><text transform="translate(130.17,434.40) scale(1.05,1)" font-size="14" text-anchor="middle" fill="#111" stroke="#111" stroke-width="0.12">9.0</text><line x1="155.00" y1="410.40" x2="155.00" y2="414.60" stroke="#444" stroke-width="1.3"/><line x1="179.83" y1="410.40" x2="179.83" y2="416.60" stroke="#444" stroke-width="1.3"/><text transform="translate(179.83,434.40) scale(1.05,1)" font-size="14" text-anchor="middle" fill="#111" stroke="#111" stroke-width="0.12">10.0</text><line x1="204.67" y1="410.40" x2="204.67" y2="414.60" stroke="#444" stroke-width="1.3"/><line x1="229.50" y1="410.40" x2="229.50" y2="416.60" stroke="#444" stroke-width="1.3"/><text transform="translate(229.50,434.40) scale(1.05,1)" font-size="14" text-anchor="middle" fill="#111" stroke="#111" stroke-width="0.12">11.0</text><line x1="254.33" y1="410.40" x2="254.33" y2="414.60" stroke="#444" stroke-width="1.3"/><line x1="279.17" y1="410.40" x2="279.17" y2="416.60" stroke="#444" stroke-width="1.3"/><text transform="translate(279.17,434.40) scale(1.05,1)" font-size="14" text-anchor="middle" fill="#111" stroke="#111" stroke-width="0.12">12.0</text><text transform="translate(194.40,453.00) scale(1.05,1)" font-size="14.3" text-anchor="middle" fill="#111" stroke="#111" stroke-width="0.12">Frequency (GHz)</text><text transform="translate(41.90,369.90) rotate(-90) scale(1.05,1)" font-size="14" text-anchor="start" fill="#111" stroke="#111" stroke-width="0.12">EMI SE (dB)</text><path d="M213.80,366.90 L216.80,369.90 L213.80,372.90 L210.80,369.90 Z" fill="none" stroke="#ff1a1a" stroke-width="1.3"/><text transform="translate(223.60,374.60) scale(1.05,1)" font-size="14.4" text-anchor="start" fill="#111" stroke="#111" stroke-width="0.12">rGOF-3000</text><path d="M213.80,390.70 L216.10,393.00 L213.80,395.30 L211.50,393.00 Z" fill="none" stroke="#38b8e8" stroke-width="1.1"/><text transform="translate(223.60,397.90) scale(1.05,1)" font-size="14.4" text-anchor="start" fill="#111" stroke="#111" stroke-width="0.12">rGOF-1000</text><text transform="translate(369.00,270.50)" font-size="29" text-anchor="start" fill="#000" font-weight="bold">d</text><rect x="451.50" y="397.20" width="7.50" height="11.30" fill="url(#db)" stroke="#22b2ea" stroke-width="1.2"/><rect x="460.20" y="389.50" width="7.20" height="19.00" fill="url(#do)" stroke="#f39c55" stroke-width="1.2"/><rect x="468.80" y="379.10" width="7.90" height="29.40" fill="url(#dr)" stroke="#ff1010" stroke-width="1.6"/><text transform="translate(468.80,425.30) rotate(-34) scale(1.05,1)" font-size="12.8" text-anchor="end" fill="#111" stroke="#111" stroke-width="0.12">GF-2000</text><rect x="489.96" y="404.00" width="7.50" height="4.50" fill="url(#db)" stroke="#22b2ea" stroke-width="1.2"/><rect x="498.66" y="357.10" width="7.20" height="51.40" fill="url(#do)" stroke="#f39c55" stroke-width="1.2"/><rect x="507.26" y="353.40" width="7.90" height="55.10" fill="url(#dr)" stroke="#ff1010" stroke-width="1.6"/><text transform="translate(507.26,425.30) rotate(-34) scale(1.05,1)" font-size="12.8" text-anchor="end" fill="#111" stroke="#111" stroke-width="0.12">rGO-PS</text><rect x="528.42" y="385.60" width="7.50" height="22.90" fill="url(#db)" stroke="#22b2ea" stroke-width="1.2"/><rect x="537.12" y="373.70" width="7.20" height="34.80" fill="url(#do)" stroke="#f39c55" stroke-width="1.2"/><rect x="545.72" y="351.10" width="7.90" height="57.40" fill="url(#dr)" stroke="#ff1010" stroke-width="1.6"/><text transform="translate(545.72,425.30) rotate(-34) scale(1.05,1)" font-size="12.8" text-anchor="end" fill="#111" stroke="#111" stroke-width="0.12">G-PVP</text><rect x="566.88" y="386.80" width="7.50" height="21.70" fill="url(#db)" stroke="#22b2ea" stroke-width="1.2"/><rect x="575.58" y="367.00" width="7.20" height="41.50" fill="url(#do)" stroke="#f39c55" stroke-width="1.2"/><rect x="584.18" y="345.80" width="7.90" height="62.70" fill="url(#dr)" stroke="#ff1010" stroke-width="1.6"/><text transform="translate(584.18,425.30) rotate(-34) scale(1.05,1)" font-size="12.8" text-anchor="end" fill="#111" stroke="#111" stroke-width="0.12">Cotton-2850</text><rect x="605.34" y="390.70" width="7.50" height="17.80" fill="url(#db)" stroke="#22b2ea" stroke-width="1.2"/><rect x="614.04" y="352.10" width="7.20" height="56.40" fill="url(#do)" stroke="#f39c55" stroke-width="1.2"/><rect x="622.64" y="335.50" width="7.90" height="73.00" fill="url(#dr)" stroke="#ff1010" stroke-width="1.6"/><text transform="translate(622.64,425.30) rotate(-34) scale(1.05,1)" font-size="12.8" text-anchor="end" fill="#111" stroke="#111" stroke-width="0.12">rGOF-1000</text><rect x="643.80" y="265.70" width="7.50" height="142.80" fill="url(#db)" stroke="#22b2ea" stroke-width="1.2"/><rect x="661.10" y="265.90" width="7.90" height="142.60" fill="url(#dr)" stroke="#ff1010" stroke-width="1.6"/><text transform="translate(661.10,425.30) rotate(-34) scale(1.05,1)" font-size="12.8" text-anchor="end" fill="#111" stroke="#111" stroke-width="0.12">rGOF-3000</text><line x1="445.50" y1="248.70" x2="675.50" y2="248.70" stroke="#666" stroke-width="1.3"/><line x1="675.50" y1="248.70" x2="675.50" y2="408.50" stroke="#666" stroke-width="1.3"/><line x1="445.50" y1="248.70" x2="445.50" y2="408.50" stroke="#555" stroke-width="1.3"/><line x1="445.50" y1="408.50" x2="675.50" y2="408.50" stroke="#555" stroke-width="1.3"/><line x1="439.50" y1="408.50" x2="445.50" y2="408.50" stroke="#555" stroke-width="1.3"/><text transform="translate(435.80,413.50) scale(1.05,1)" font-size="14" text-anchor="end" fill="#111" stroke="#111" stroke-width="0.12">0</text><line x1="441.10" y1="395.18" x2="445.50" y2="395.18" stroke="#555" stroke-width="1.3"/><line x1="439.50" y1="381.87" x2="445.50" y2="381.87" stroke="#555" stroke-width="1.3"/><text transform="translate(435.80,386.87) scale(1.05,1)" font-size="14" text-anchor="end" fill="#111" stroke="#111" stroke-width="0.12">20</text><line x1="441.10" y1="368.55" x2="445.50" y2="368.55" stroke="#555" stroke-width="1.3"/><line x1="439.50" y1="355.23" x2="445.50" y2="355.23" stroke="#555" stroke-width="1.3"/><text transform="translate(435.80,360.23) scale(1.05,1)" font-size="14" text-anchor="end" fill="#111" stroke="#111" stroke-width="0.12">40</text><line x1="441.10" y1="341.92" x2="445.50" y2="341.92" stroke="#555" stroke-width="1.3"/><line x1="439.50" y1="328.60" x2="445.50" y2="328.60" stroke="#555" stroke-width="1.3"/><text transform="translate(435.80,333.60) scale(1.05,1)" font-size="14" text-anchor="end" fill="#111" stroke="#111" stroke-width="0.12">60</text><line x1="441.10" y1="315.28" x2="445.50" y2="315.28" stroke="#555" stroke-width="1.3"/><line x1="439.50" y1="301.97" x2="445.50" y2="301.97" stroke="#555" stroke-width="1.3"/><text transform="translate(435.80,306.97) scale(1.05,1)" font-size="14" text-anchor="end" fill="#111" stroke="#111" stroke-width="0.12">80</text><line x1="441.10" y1="288.65" x2="445.50" y2="288.65" stroke="#555" stroke-width="1.3"/><line x1="439.50" y1="275.33" x2="445.50" y2="275.33" stroke="#555" stroke-width="1.3"/><text transform="translate(435.80,280.33) scale(1.05,1)" font-size="14" text-anchor="end" fill="#111" stroke="#111" stroke-width="0.12">100</text><line x1="441.10" y1="262.02" x2="445.50" y2="262.02" stroke="#555" stroke-width="1.3"/><line x1="439.50" y1="248.70" x2="445.50" y2="248.70" stroke="#555" stroke-width="1.3"/><text transform="translate(435.80,253.70) scale(1.05,1)" font-size="14" text-anchor="end" fill="#111" stroke="#111" stroke-width="0.12">120</text><text transform="translate(406.80,374.60) rotate(-90) scale(1.05,1)" font-size="14" text-anchor="start" fill="#111" stroke="#111" stroke-width="0.12">EMI SE (dB)</text><rect x="579.70" y="258.60" width="9.40" height="10.20" fill="url(#db)" stroke="#22b2ea" stroke-width="1.1"/><text transform="translate(593.40,269.50) scale(1.05,1)" font-size="14.5" text-anchor="start" fill="#111" stroke="#111" stroke-width="0.12">SE<tspan dy="4" font-size="10">R</tspan></text><rect x="579.70" y="278.60" width="9.40" height="10.20" fill="url(#do)" stroke="#f39c55" stroke-width="1.1"/><text transform="translate(593.40,289.50) scale(1.05,1)" font-size="14.5" text-anchor="start" fill="#111" stroke="#111" stroke-width="0.12">SE<tspan dy="4" font-size="10">A</tspan></text><rect x="579.70" y="298.60" width="9.40" height="10.20" fill="url(#dr)" stroke="#ff1818" stroke-width="1.1"/><text transform="translate(593.40,309.50) scale(1.05,1)" font-size="14.5" text-anchor="start" fill="#111" stroke="#111" stroke-width="0.12">SE<tspan dy="4" font-size="10">T</tspan></text>
</svg>
</body></html>
